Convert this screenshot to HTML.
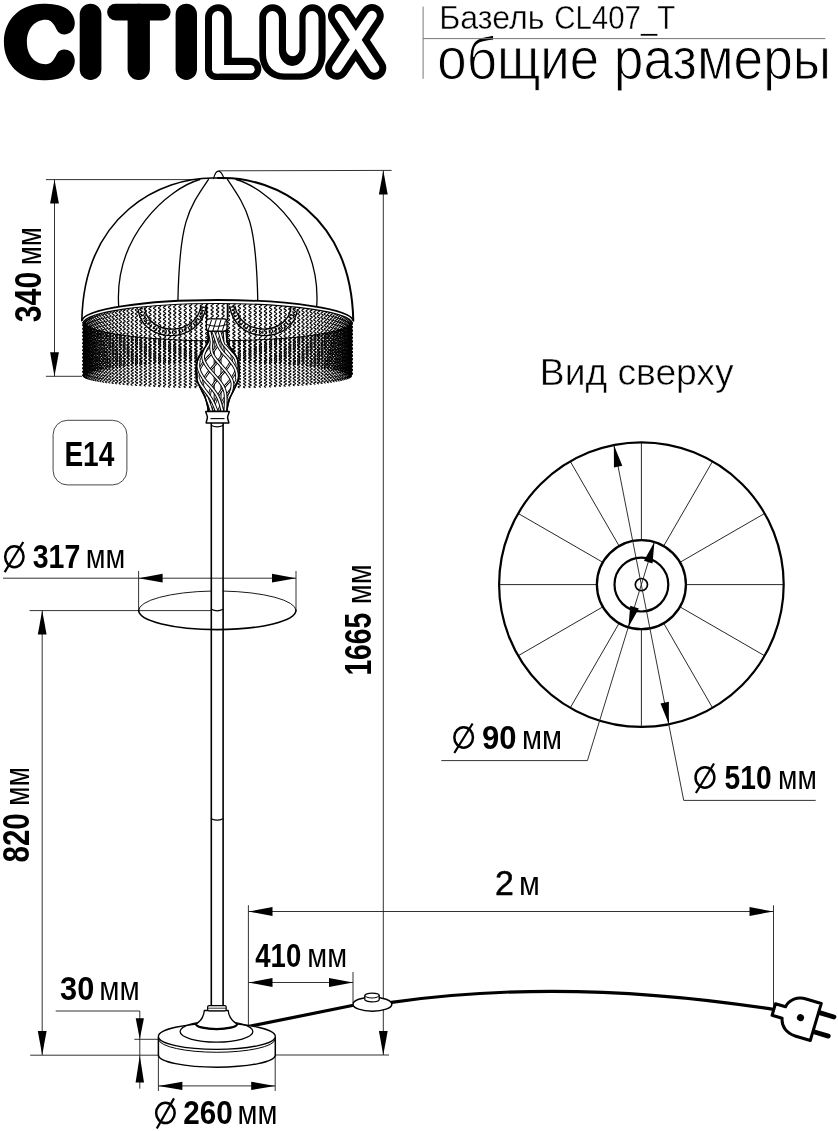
<!DOCTYPE html>
<html><head><meta charset="utf-8"><title>Citilux CL407_T</title>
<style>html,body{margin:0;padding:0;background:#fff}svg{display:block;will-change:transform}text{white-space:pre}</style></head>
<body>
<svg width="838" height="1131" viewBox="0 0 838 1131">
<rect width="838" height="1131" fill="#fff"/>
<g id="logo" fill="#000">
<path d="M3.9,42 C3.9,20 20,3.7 43,3.7 C52,3.7 60,4.8 65.6,7.9 C71,11 74.8,17 74.8,23 C74.8,30 70,34.4 64.3,34.4 C61,34.4 59,33 57.8,31.5 C55.2,27.8 53,19.8 46,19.8 C34,19.8 26.9,29.5 26.9,42 C26.9,54.5 34,64.2 46,64.2 C53,64.2 55.2,56.2 57.8,52.5 C59,51 61,49.6 64.3,49.6 C70,49.6 74.8,54 74.8,61 C74.8,67 71,73 65.6,76.1 C60,79.2 52,80.3 43,80.3 C20,80.3 3.9,64 3.9,42 Z"/>
<rect x="79.7" y="3.7" width="21.7" height="76.3" rx="10.8"/>
<rect x="107.1" y="3.7" width="63.5" height="16.8" rx="8.4"/>
<rect x="127.6" y="3.7" width="22.3" height="76.3" rx="11"/>
<rect x="175.6" y="3.7" width="21.4" height="76.3" rx="10.7"/>
</g>
<g fill="none" stroke-linecap="round" stroke-linejoin="round">
<line x1="218.4" y1="17.7" x2="218.4" y2="66.6" stroke="#000" stroke-width="26.8"/>
<line x1="216.1" y1="68.9" x2="250.2" y2="68.9" stroke="#000" stroke-width="22.2"/>
<path d="M259.3,17.5 A13.35,13.2 0 0 1 286,17.5 L286,49.6 A6.7,6.7 0 0 0 299.4,49.6 L299.4,17.5 A13.1,13.2 0 0 1 325.6,17.5 L325.6,54 C325.6,69 316,79.7 301,79.7 L284,79.7 C269,79.7 259.3,69 259.3,54 Z" fill="#000"/>
<line x1="339.75" y1="15.75" x2="374.45" y2="67.95" stroke="#000" stroke-width="23.6"/>
<line x1="371.95" y1="15.75" x2="336.95" y2="67.95" stroke="#000" stroke-width="23.6"/>
<line x1="218.05" y1="17.05" x2="218.05" y2="67.45" stroke="#fff" stroke-width="12.1"/>
<line x1="216.3" y1="69.2" x2="250.4" y2="69.2" stroke="#fff" stroke-width="8.6"/>
<path d="M266,17.5 A6.45,6.5 0 0 1 278.9,17.5 L278.9,50 A13.35,15.9 0 0 0 305.6,50 L305.6,17.5 A6.45,6.5 0 0 1 318.5,17.5 L318.5,54 C318.5,66 311,73.5 300,73.5 L285,73.5 C274,73.5 266,66 266,54 Z" fill="#fff"/>
<line x1="339.75" y1="15.75" x2="374.45" y2="67.95" stroke="#fff" stroke-width="9.8"/>
<line x1="371.95" y1="15.75" x2="336.95" y2="67.95" stroke="#fff" stroke-width="9.8"/>
</g>
<text transform="translate(439.15,28.50) scale(0.9630,1)" font-family="Liberation Sans, sans-serif" font-size="33.40" font-weight="normal" fill="#000" stroke="#fff" stroke-width="0.4">Базель</text>
<text transform="translate(554.23,28.50) scale(0.8812,1)" font-family="Liberation Sans, sans-serif" font-size="33.40" font-weight="normal" fill="#000" stroke="#fff" stroke-width="0.4">CL407_T</text>
<text transform="translate(437.36,79.20) scale(0.9023,1)" font-family="Liberation Sans, sans-serif" font-size="58.50" font-weight="normal" fill="#000" stroke="#fff" stroke-width="1.0">общие</text>
<text transform="translate(613.84,79.20) scale(0.9108,1)" font-family="Liberation Sans, sans-serif" font-size="58.50" font-weight="normal" fill="#000" stroke="#fff" stroke-width="1.0">размеры</text>
<line x1="423.10" y1="6.60" x2="423.10" y2="78.80" stroke="#777" stroke-width="1" />
<line x1="423.10" y1="38.60" x2="825.40" y2="38.60" stroke="#777" stroke-width="1" />
<line x1="45.90" y1="179.60" x2="194.00" y2="179.60" stroke="#1c1c1c" stroke-width="0.9" />
<line x1="45.90" y1="376.30" x2="82.00" y2="376.30" stroke="#1c1c1c" stroke-width="0.9" />
<line x1="54.50" y1="179.60" x2="54.50" y2="376.30" stroke="#1c1c1c" stroke-width="0.9" />
<polygon points="54.50,179.60 58.90,203.60 50.10,203.60" fill="#000"/>
<polygon points="54.50,376.30 50.10,352.30 58.90,352.30" fill="#000"/>
<text transform="translate(40.70,322.28) rotate(-90) scale(0.8319,1)" font-family="Liberation Sans, sans-serif" font-size="36.40" font-weight="bold" fill="#000" >340</text>
<text transform="translate(40.60,265.25) rotate(-90) scale(0.7965,1)" font-family="Liberation Sans, sans-serif" font-size="34.90" font-weight="normal" fill="#000" >мм</text>
<line x1="218.50" y1="170.80" x2="391.60" y2="170.40" stroke="#1c1c1c" stroke-width="0.9" />
<line x1="383.30" y1="170.50" x2="383.30" y2="1055.00" stroke="#1c1c1c" stroke-width="0.9" />
<polygon points="383.30,170.50 387.70,194.50 378.90,194.50" fill="#000"/>
<polygon points="383.30,1055.00 378.90,1031.00 387.70,1031.00" fill="#000"/>
<line x1="275.00" y1="1055.00" x2="389.00" y2="1055.00" stroke="#1c1c1c" stroke-width="0.9" />
<text transform="translate(371.20,675.56) rotate(-90) scale(0.7743,1)" font-family="Liberation Sans, sans-serif" font-size="36.40" font-weight="bold" fill="#000" >1665</text>
<text transform="translate(370.70,604.23) rotate(-90) scale(0.8312,1)" font-family="Liberation Sans, sans-serif" font-size="34.90" font-weight="normal" fill="#000" >мм</text>
<line x1="3.00" y1="578.20" x2="296.00" y2="578.20" stroke="#1c1c1c" stroke-width="0.9" />
<line x1="138.60" y1="571.00" x2="138.60" y2="610.50" stroke="#1c1c1c" stroke-width="0.9" />
<line x1="296.00" y1="571.00" x2="296.00" y2="610.50" stroke="#1c1c1c" stroke-width="0.9" />
<polygon points="138.60,578.20 162.60,573.80 162.60,582.60" fill="#000"/>
<polygon points="296.00,578.20 272.00,582.60 272.00,573.80" fill="#000"/>
<ellipse cx="14.35" cy="556.75" rx="9.20" ry="10.40" fill="none" stroke="#000" stroke-width="2.5"/>
<line x1="4.65" y1="572.20" x2="23.30" y2="542.00" stroke="#000" stroke-width="2.2" />
<text transform="translate(32.76,568.30) scale(0.8487,1)" font-family="Liberation Sans, sans-serif" font-size="33.60" font-weight="bold" fill="#000" >317</text>
<text transform="translate(85.69,568.30) scale(0.8717,1)" font-family="Liberation Sans, sans-serif" font-size="33.00" font-weight="normal" fill="#000" >мм</text>
<line x1="29.60" y1="610.60" x2="211.30" y2="610.60" stroke="#1c1c1c" stroke-width="0.9" />
<line x1="42.20" y1="610.60" x2="42.20" y2="1055.00" stroke="#1c1c1c" stroke-width="0.9" />
<polygon points="42.20,610.60 46.60,634.60 37.80,634.60" fill="#000"/>
<polygon points="42.20,1055.00 37.80,1031.00 46.60,1031.00" fill="#000"/>
<line x1="30.20" y1="1055.20" x2="158.40" y2="1055.20" stroke="#1c1c1c" stroke-width="0.9" />
<text transform="translate(28.90,862.56) rotate(-90) scale(0.8130,1)" font-family="Liberation Sans, sans-serif" font-size="36.40" font-weight="bold" fill="#000" >820</text>
<text transform="translate(28.80,805.99) rotate(-90) scale(0.8081,1)" font-family="Liberation Sans, sans-serif" font-size="35.20" font-weight="normal" fill="#000" >мм</text>
<line x1="55.70" y1="1011.00" x2="139.80" y2="1011.00" stroke="#1c1c1c" stroke-width="0.9" />
<line x1="139.80" y1="1011.00" x2="139.80" y2="1088.70" stroke="#1c1c1c" stroke-width="0.9" />
<line x1="134.30" y1="1039.30" x2="158.40" y2="1039.30" stroke="#1c1c1c" stroke-width="0.9" />
<polygon points="139.80,1039.30 135.70,1018.30 143.90,1018.30" fill="#000"/>
<polygon points="139.80,1055.60 144.00,1082.60 135.60,1082.60" fill="#000"/>
<text transform="translate(60.11,1000.10) scale(0.9149,1)" font-family="Liberation Sans, sans-serif" font-size="33.60" font-weight="bold" fill="#000" >30</text>
<text transform="translate(99.24,1000.10) scale(0.8913,1)" font-family="Liberation Sans, sans-serif" font-size="33.00" font-weight="normal" fill="#000" >мм</text>
<line x1="158.40" y1="1055.00" x2="158.40" y2="1091.00" stroke="#1c1c1c" stroke-width="0.9" />
<line x1="275.20" y1="1055.00" x2="275.20" y2="1091.00" stroke="#1c1c1c" stroke-width="0.9" />
<line x1="158.40" y1="1085.90" x2="275.20" y2="1085.90" stroke="#1c1c1c" stroke-width="0.9" />
<polygon points="158.40,1085.90 182.40,1081.70 182.40,1090.10" fill="#000"/>
<polygon points="275.20,1085.90 251.20,1090.10 251.20,1081.70" fill="#000"/>
<ellipse cx="165.40" cy="1112.95" rx="9.25" ry="10.10" fill="none" stroke="#000" stroke-width="2.5"/>
<line x1="156.80" y1="1128.50" x2="174.00" y2="1098.40" stroke="#000" stroke-width="2.2" />
<text transform="translate(183.26,1124.20) scale(0.8821,1)" font-family="Liberation Sans, sans-serif" font-size="33.60" font-weight="bold" fill="#000" >260</text>
<text transform="translate(237.47,1124.20) scale(0.8791,1)" font-family="Liberation Sans, sans-serif" font-size="33.00" font-weight="normal" fill="#000" >мм</text>
<line x1="248.40" y1="905.30" x2="248.40" y2="1026.00" stroke="#1c1c1c" stroke-width="0.9" />
<line x1="353.00" y1="972.00" x2="353.00" y2="1003.00" stroke="#1c1c1c" stroke-width="0.9" />
<line x1="248.50" y1="982.50" x2="353.00" y2="982.50" stroke="#1c1c1c" stroke-width="0.9" />
<polygon points="248.50,982.50 272.50,978.10 272.50,986.90" fill="#000"/>
<polygon points="353.00,982.50 329.00,986.90 329.00,978.10" fill="#000"/>
<text transform="translate(255.29,967.00) scale(0.8195,1)" font-family="Liberation Sans, sans-serif" font-size="33.60" font-weight="bold" fill="#000" >410</text>
<text transform="translate(307.37,967.30) scale(0.8766,1)" font-family="Liberation Sans, sans-serif" font-size="33.00" font-weight="normal" fill="#000" >мм</text>
<line x1="248.50" y1="911.50" x2="773.50" y2="911.50" stroke="#1c1c1c" stroke-width="0.9" />
<line x1="773.50" y1="905.30" x2="773.50" y2="1007.00" stroke="#1c1c1c" stroke-width="0.9" />
<polygon points="248.50,911.50 272.50,907.10 272.50,915.90" fill="#000"/>
<polygon points="773.50,911.50 749.50,915.90 749.50,907.10" fill="#000"/>
<text transform="translate(495.11,895.40) scale(0.9839,1)" font-family="Liberation Sans, sans-serif" font-size="34.40" font-weight="normal" fill="#000" stroke="#000" stroke-width="0.5">2</text>
<text transform="translate(518.97,895.40) scale(0.8904,1)" font-family="Liberation Sans, sans-serif" font-size="34.10" font-weight="normal" fill="#000" >м</text>
<rect x="53.1" y="420.3" width="73.8" height="64.6" rx="14.3" fill="#fff" stroke="#333" stroke-width="0.9"/>
<text transform="translate(64.40,465.50) scale(0.7847,1)" font-family="Liberation Sans, sans-serif" font-size="35.80" font-weight="bold" fill="#000" >E14</text>
<text transform="translate(539.83,385.40) scale(1.0250,1)" font-family="Liberation Sans, sans-serif" font-size="36.30" font-weight="normal" fill="#000" stroke="#fff" stroke-width="0.5">Вид сверху</text>
<line x1="685.90" y1="584.60" x2="783.70" y2="584.60" stroke="#1c1c1c" stroke-width="0.95" />
<line x1="679.94" y1="606.85" x2="764.64" y2="655.75" stroke="#1c1c1c" stroke-width="0.95" />
<line x1="663.65" y1="623.14" x2="712.55" y2="707.84" stroke="#1c1c1c" stroke-width="0.95" />
<line x1="641.40" y1="629.10" x2="641.40" y2="726.90" stroke="#1c1c1c" stroke-width="0.95" />
<line x1="619.15" y1="623.14" x2="570.25" y2="707.84" stroke="#1c1c1c" stroke-width="0.95" />
<line x1="602.86" y1="606.85" x2="518.16" y2="655.75" stroke="#1c1c1c" stroke-width="0.95" />
<line x1="596.90" y1="584.60" x2="499.10" y2="584.60" stroke="#1c1c1c" stroke-width="0.95" />
<line x1="602.86" y1="562.35" x2="518.16" y2="513.45" stroke="#1c1c1c" stroke-width="0.95" />
<line x1="619.15" y1="546.06" x2="570.25" y2="461.36" stroke="#1c1c1c" stroke-width="0.95" />
<line x1="641.40" y1="540.10" x2="641.40" y2="442.30" stroke="#1c1c1c" stroke-width="0.95" />
<line x1="663.65" y1="546.06" x2="712.55" y2="461.36" stroke="#1c1c1c" stroke-width="0.95" />
<line x1="679.94" y1="562.35" x2="764.64" y2="513.45" stroke="#1c1c1c" stroke-width="0.95" />
<circle cx="641.4" cy="584.6" r="142.3" fill="none" stroke="#000" stroke-width="2.2"/>
<circle cx="641.4" cy="584.6" r="44.5" fill="none" stroke="#000" stroke-width="2.3"/>
<circle cx="641.4" cy="584.6" r="26.9" fill="none" stroke="#000" stroke-width="2.2"/>
<circle cx="641.4" cy="584.6" r="6.1" fill="none" stroke="#000" stroke-width="1.7"/>
<line x1="613.86" y1="444.99" x2="683.70" y2="800.30" stroke="#1c1c1c" stroke-width="0.9" />
<line x1="683.70" y1="800.40" x2="815.70" y2="800.40" stroke="#1c1c1c" stroke-width="0.9" />
<polygon points="613.86,444.99 622.29,465.75 613.95,467.40" fill="#000"/>
<polygon points="668.94,724.21 660.51,703.45 668.85,701.80" fill="#000"/>
<ellipse cx="704.95" cy="777.40" rx="9.40" ry="10.25" fill="none" stroke="#000" stroke-width="2.5"/>
<line x1="695.90" y1="793.00" x2="714.00" y2="763.50" stroke="#000" stroke-width="2.2" />
<text transform="translate(724.55,788.80) scale(0.8384,1)" font-family="Liberation Sans, sans-serif" font-size="33.60" font-weight="bold" fill="#000" >510</text>
<text transform="translate(778.03,788.80) scale(0.8546,1)" font-family="Liberation Sans, sans-serif" font-size="33.00" font-weight="normal" fill="#000" >мм</text>
<line x1="654.38" y1="542.04" x2="587.40" y2="760.60" stroke="#1c1c1c" stroke-width="0.9" />
<line x1="441.30" y1="760.60" x2="587.40" y2="760.60" stroke="#1c1c1c" stroke-width="0.9" />
<polygon points="654.38,542.04 652.56,563.44 643.95,560.81" fill="#000"/>
<polygon points="628.42,627.16 630.24,605.76 638.85,608.39" fill="#000"/>
<ellipse cx="463.65" cy="737.40" rx="9.30" ry="10.25" fill="none" stroke="#000" stroke-width="2.5"/>
<line x1="454.30" y1="753.00" x2="472.60" y2="723.50" stroke="#000" stroke-width="2.2" />
<text transform="translate(481.91,748.80) scale(0.9231,1)" font-family="Liberation Sans, sans-serif" font-size="33.60" font-weight="bold" fill="#000" >90</text>
<text transform="translate(522.06,748.80) scale(0.8815,1)" font-family="Liberation Sans, sans-serif" font-size="33.00" font-weight="normal" fill="#000" >мм</text>
<g fill="none" stroke="#000" stroke-linecap="round" stroke-linejoin="round">
<path d="M138.6,610.3 A78.7,19.3 0 0 1 211.3,591.06 M223.1,591.06 A78.7,19.3 0 0 1 296,610.3" stroke-width="0.9"/>
<path d="M138.6,610.3 A78.7,19.3 0 0 0 296,610.3" stroke-width="1.6"/>
<path d="M211.3,423 V1006 M223.1,423 V1006" stroke-width="1.6"/>
<path d="M211.3,609.3 Q217.2,612.3 223,609.3" stroke-width="1.2"/>
<path d="M211.3,818.7 Q217.2,821.7 223,818.7" stroke-width="1.2"/>
<path d="M249.4,1026.3 L353.5,1005.3" stroke-width="3.2"/>
<path d="M391.5,1002.3 Q567.6,977.2 773.3,1009.4" stroke-width="3.2"/>
<ellipse cx="372.4" cy="1004.2" rx="19.4" ry="7" fill="#fff" stroke-width="1.5"/>
<path d="M364.8,999.5 V995.6 A7.2,2.4 0 0 1 379.2,995.6 V999.5 A7.2,2.4 0 0 1 364.8,999.5 Z" fill="#fff" stroke-width="1.3"/>
<path d="M364.8,995.6 A7.2,2.4 0 0 0 379.2,995.6" stroke-width="1"/>
<g transform="translate(773.3,1009.4) rotate(16.5)">
<path d="M46,-10 H60.3 M46,10 H60.3" stroke-width="4.8"/>
<path d="M0.5,-6 H11 C12.5,-14 19.5,-19.3 28.5,-19.3 L44.3,-19.3 V19.3 L28.5,19.3 C19.5,19.3 12.5,14 11,6 H0.5 Z" fill="#fff" stroke-width="3" stroke-linejoin="round"/>
<circle cx="28.4" cy="0.2" r="3.6" fill="#000" stroke="none"/>
</g>
<path d="M158.4,1037.5 V1055 A58.45,12.2 0 0 0 275.3,1055 V1037.5" fill="#fff" stroke-width="1.5"/>
<ellipse cx="216.85" cy="1036.4" rx="58.45" ry="13" fill="#fff" stroke-width="1.4"/>
<path d="M158.6,1039.9 A58.3,12.9 0 0 0 275.1,1039.9" stroke-width="1"/>
<ellipse cx="216.5" cy="1031.6" rx="36.4" ry="10.5" stroke-width="1.3"/>
<path d="M195.9,1024.2 C201,1021 204,1016 204.3,1010.5 H228.2 C228.5,1016 232,1021 237.2,1024.2 A20.7,5.2 0 0 1 195.9,1024.2 Z" fill="#fff" stroke-width="1.3"/>
<path d="M195.9,1024.2 A20.7,5.2 0 0 0 237.2,1024.2" stroke-width="2.2"/>
<rect x="207.6" y="1005.6" width="18.6" height="5.2" rx="1.5" fill="#fff" stroke-width="1.2"/>
<path d="M207.8,1008.2 H226" stroke-width="0.8"/>
</g>
<g fill="none" stroke="#000" stroke-linecap="round" stroke-linejoin="round">
<path d="M81.8,320.8 C84.1,213.5 161.5,177.6 213.2,178 L222.8,178 C274.1,177.6 351.0,213.5 353.3,320.8 A135.8,20 0 0 0 81.8,320.8 Z" fill="#fff" stroke="none"/>
<path d="M81.8,320.8 C84.1,213.5 161.5,177.6 213.2,178 L218,178" stroke-width="1.6"/>
<path d="M218,178 L222.8,178 C274.1,177.6 351.0,213.5 353.3,320.8" stroke-width="2"/>
<path d="M213.6,178.6 C214.6,174.5 216.4,171.2 218.4,171.2 C220.4,171.2 222.6,174.5 224,178.8" fill="none" stroke-width="1.2"/>
<path d="M118.7,306.5 C113.9,235.8 168.4,188.4 199.8,179.5" stroke-width="1.3"/>
<path d="M177.9,301 C179.6,221.6 187.6,210.1 208.4,179.5" stroke-width="1.3"/>
<path d="M316.7,306.5 C321.4,235.8 267.3,188.4 236.1,179.5" stroke-width="1.3"/>
<path d="M257.8,301 C256.2,221.6 248.2,210.1 227.5,179.5" stroke-width="1.3"/>
</g>
<g fill="none" stroke="#000" stroke-width="1.3">
<path d="M138.0,309 C142.0,344.5 201.0,345.5 206.2,305.8"/>
<path d="M141.2,308.2 C145.0,340 198.5,341 203.6,305.8" stroke-width="3.2" stroke-dasharray="1.3 2.0"/>
<path d="M144.5,307.5 C148.0,336 196.0,337 201.0,305.8"/>
<path d="M297.5,309 C293.5,344.5 234.9,345.5 229.7,305.8"/>
<path d="M294.3,308.2 C290.5,340 237.4,341 232.3,305.8" stroke-width="3.2" stroke-dasharray="1.3 2.0"/>
<path d="M291.0,307.5 C287.5,336 239.9,337 234.9,305.8"/>
<path d="M206.6,303.2 V320 M227.4,303.2 V320" stroke-width="1.3"/>
</g>
<g fill="none" stroke="#000" stroke-width="1.25" stroke-linecap="round">
<path d="M0,0q2.30,1.05 0,2.10t0,2.10t0,2.10t0,2.10t0,2.10t0,2.10t0,2.10t0,2.10t0,2.10t0,2.10t0,2.10t0,2.10t0,2.10t0,2.10t0,2.10t0,2.10t0,2.10t0,2.10t0,2.10t0,2.10t0,2.10t0,2.10t0,2.10t0,2.10t0,2.10t0,2.10t0,2.10t0,2.10t0,2.10t0,2.10" transform="translate(351.17,322.38) scale(1,0.855)"/>
<path d="M0,0q2.30,1.05 0,2.10t0,2.10t0,2.10t0,2.10t0,2.10t0,2.10t0,2.10t0,2.10t0,2.10t0,2.10t0,2.10t0,2.10t0,2.10t0,2.10t0,2.10t0,2.10t0,2.10t0,2.10t0,2.10t0,2.10t0,2.10t0,2.10t0,2.10t0,2.10t0,2.10t0,2.10t0,2.10t0,2.10t0,2.10t0,2.10" transform="translate(350.95,323.13) scale(1,0.851)"/>
<path d="M0,0q2.30,1.05 0,2.10t0,2.10t0,2.10t0,2.10t0,2.10t0,2.10t0,2.10t0,2.10t0,2.10t0,2.10t0,2.10t0,2.10t0,2.10t0,2.10t0,2.10t0,2.10t0,2.10t0,2.10t0,2.10t0,2.10t0,2.10t0,2.10t0,2.10t0,2.10t0,2.10t0,2.10t0,2.10t0,2.10t0,2.10t0,2.10" transform="translate(350.51,323.88) scale(1,0.847)"/>
<path d="M0,0q2.30,1.05 0,2.10t0,2.10t0,2.10t0,2.10t0,2.10t0,2.10t0,2.10t0,2.10t0,2.10t0,2.10t0,2.10t0,2.10t0,2.10t0,2.10t0,2.10t0,2.10t0,2.10t0,2.10t0,2.10t0,2.10t0,2.10t0,2.10t0,2.10t0,2.10t0,2.10t0,2.10t0,2.10t0,2.10t0,2.10t0,2.10" transform="translate(349.84,324.63) scale(1,0.842)"/>
<path d="M0,0q2.30,1.05 0,2.10t0,2.10t0,2.10t0,2.10t0,2.10t0,2.10t0,2.10t0,2.10t0,2.10t0,2.10t0,2.10t0,2.10t0,2.10t0,2.10t0,2.10t0,2.10t0,2.10t0,2.10t0,2.10t0,2.10t0,2.10t0,2.10t0,2.10t0,2.10t0,2.10t0,2.10t0,2.10t0,2.10t0,2.10t0,2.10" transform="translate(348.95,325.38) scale(1,0.838)"/>
<path d="M0,0q2.30,1.05 0,2.10t0,2.10t0,2.10t0,2.10t0,2.10t0,2.10t0,2.10t0,2.10t0,2.10t0,2.10t0,2.10t0,2.10t0,2.10t0,2.10t0,2.10t0,2.10t0,2.10t0,2.10t0,2.10t0,2.10t0,2.10t0,2.10t0,2.10t0,2.10t0,2.10t0,2.10t0,2.10t0,2.10t0,2.10t0,2.10" transform="translate(347.85,326.12) scale(1,0.834)"/>
<path d="M0,0q2.30,1.05 0,2.10t0,2.10t0,2.10t0,2.10t0,2.10t0,2.10t0,2.10t0,2.10t0,2.10t0,2.10t0,2.10t0,2.10t0,2.10t0,2.10t0,2.10t0,2.10t0,2.10t0,2.10t0,2.10t0,2.10t0,2.10t0,2.10t0,2.10t0,2.10t0,2.10t0,2.10t0,2.10t0,2.10t0,2.10t0,2.10" transform="translate(346.53,326.85) scale(1,0.830)"/>
<path d="M0,0q2.30,1.05 0,2.10t0,2.10t0,2.10t0,2.10t0,2.10t0,2.10t0,2.10t0,2.10t0,2.10t0,2.10t0,2.10t0,2.10t0,2.10t0,2.10t0,2.10t0,2.10t0,2.10t0,2.10t0,2.10t0,2.10t0,2.10t0,2.10t0,2.10t0,2.10t0,2.10t0,2.10t0,2.10t0,2.10t0,2.10t0,2.10" transform="translate(344.99,327.57) scale(1,0.826)"/>
<path d="M0,0q2.30,1.05 0,2.10t0,2.10t0,2.10t0,2.10t0,2.10t0,2.10t0,2.10t0,2.10t0,2.10t0,2.10t0,2.10t0,2.10t0,2.10t0,2.10t0,2.10t0,2.10t0,2.10t0,2.10t0,2.10t0,2.10t0,2.10t0,2.10t0,2.10t0,2.10t0,2.10t0,2.10t0,2.10t0,2.10t0,2.10t0,2.10" transform="translate(343.25,328.29) scale(1,0.822)"/>
<path d="M0,0q2.30,1.05 0,2.10t0,2.10t0,2.10t0,2.10t0,2.10t0,2.10t0,2.10t0,2.10t0,2.10t0,2.10t0,2.10t0,2.10t0,2.10t0,2.10t0,2.10t0,2.10t0,2.10t0,2.10t0,2.10t0,2.10t0,2.10t0,2.10t0,2.10t0,2.10t0,2.10t0,2.10t0,2.10t0,2.10t0,2.10t0,2.10" transform="translate(341.29,328.99) scale(1,0.818)"/>
<path d="M0,0q2.30,1.05 0,2.10t0,2.10t0,2.10t0,2.10t0,2.10t0,2.10t0,2.10t0,2.10t0,2.10t0,2.10t0,2.10t0,2.10t0,2.10t0,2.10t0,2.10t0,2.10t0,2.10t0,2.10t0,2.10t0,2.10t0,2.10t0,2.10t0,2.10t0,2.10t0,2.10t0,2.10t0,2.10t0,2.10t0,2.10t0,2.10" transform="translate(339.13,329.69) scale(1,0.814)"/>
<path d="M0,0q2.30,1.05 0,2.10t0,2.10t0,2.10t0,2.10t0,2.10t0,2.10t0,2.10t0,2.10t0,2.10t0,2.10t0,2.10t0,2.10t0,2.10t0,2.10t0,2.10t0,2.10t0,2.10t0,2.10t0,2.10t0,2.10t0,2.10t0,2.10t0,2.10t0,2.10t0,2.10t0,2.10t0,2.10t0,2.10t0,2.10t0,2.10" transform="translate(336.76,330.37) scale(1,0.810)"/>
<path d="M0,0q2.30,1.05 0,2.10t0,2.10t0,2.10t0,2.10t0,2.10t0,2.10t0,2.10t0,2.10t0,2.10t0,2.10t0,2.10t0,2.10t0,2.10t0,2.10t0,2.10t0,2.10t0,2.10t0,2.10t0,2.10t0,2.10t0,2.10t0,2.10t0,2.10t0,2.10t0,2.10t0,2.10t0,2.10t0,2.10t0,2.10t0,2.10" transform="translate(334.20,331.03) scale(1,0.807)"/>
<path d="M0,0q2.30,1.05 0,2.10t0,2.10t0,2.10t0,2.10t0,2.10t0,2.10t0,2.10t0,2.10t0,2.10t0,2.10t0,2.10t0,2.10t0,2.10t0,2.10t0,2.10t0,2.10t0,2.10t0,2.10t0,2.10t0,2.10t0,2.10t0,2.10t0,2.10t0,2.10t0,2.10t0,2.10t0,2.10t0,2.10t0,2.10t0,2.10" transform="translate(331.44,331.68) scale(1,0.803)"/>
<path d="M0,0q2.30,1.05 0,2.10t0,2.10t0,2.10t0,2.10t0,2.10t0,2.10t0,2.10t0,2.10t0,2.10t0,2.10t0,2.10t0,2.10t0,2.10t0,2.10t0,2.10t0,2.10t0,2.10t0,2.10t0,2.10t0,2.10t0,2.10t0,2.10t0,2.10t0,2.10t0,2.10t0,2.10t0,2.10t0,2.10t0,2.10t0,2.10" transform="translate(328.49,332.32) scale(1,0.800)"/>
<path d="M0,0q2.30,1.05 0,2.10t0,2.10t0,2.10t0,2.10t0,2.10t0,2.10t0,2.10t0,2.10t0,2.10t0,2.10t0,2.10t0,2.10t0,2.10t0,2.10t0,2.10t0,2.10t0,2.10t0,2.10t0,2.10t0,2.10t0,2.10t0,2.10t0,2.10t0,2.10t0,2.10t0,2.10t0,2.10t0,2.10t0,2.10t0,2.10" transform="translate(325.36,332.94) scale(1,0.796)"/>
<path d="M0,0q2.30,1.05 0,2.10t0,2.10t0,2.10t0,2.10t0,2.10t0,2.10t0,2.10t0,2.10t0,2.10t0,2.10t0,2.10t0,2.10t0,2.10t0,2.10t0,2.10t0,2.10t0,2.10t0,2.10t0,2.10t0,2.10t0,2.10t0,2.10t0,2.10t0,2.10t0,2.10t0,2.10t0,2.10t0,2.10t0,2.10t0,2.10" transform="translate(322.05,333.53) scale(1,0.793)"/>
<path d="M0,0q2.30,1.05 0,2.10t0,2.10t0,2.10t0,2.10t0,2.10t0,2.10t0,2.10t0,2.10t0,2.10t0,2.10t0,2.10t0,2.10t0,2.10t0,2.10t0,2.10t0,2.10t0,2.10t0,2.10t0,2.10t0,2.10t0,2.10t0,2.10t0,2.10t0,2.10t0,2.10t0,2.10t0,2.10t0,2.10t0,2.10t0,2.10" transform="translate(318.57,334.11) scale(1,0.790)"/>
<path d="M0,0q2.30,1.05 0,2.10t0,2.10t0,2.10t0,2.10t0,2.10t0,2.10t0,2.10t0,2.10t0,2.10t0,2.10t0,2.10t0,2.10t0,2.10t0,2.10t0,2.10t0,2.10t0,2.10t0,2.10t0,2.10t0,2.10t0,2.10t0,2.10t0,2.10t0,2.10t0,2.10t0,2.10t0,2.10t0,2.10t0,2.10t0,2.10" transform="translate(314.92,334.68) scale(1,0.786)"/>
<path d="M0,0q2.30,1.05 0,2.10t0,2.10t0,2.10t0,2.10t0,2.10t0,2.10t0,2.10t0,2.10t0,2.10t0,2.10t0,2.10t0,2.10t0,2.10t0,2.10t0,2.10t0,2.10t0,2.10t0,2.10t0,2.10t0,2.10t0,2.10t0,2.10t0,2.10t0,2.10t0,2.10t0,2.10t0,2.10t0,2.10t0,2.10t0,2.10" transform="translate(311.10,335.21) scale(1,0.783)"/>
<path d="M0,0q2.30,1.05 0,2.10t0,2.10t0,2.10t0,2.10t0,2.10t0,2.10t0,2.10t0,2.10t0,2.10t0,2.10t0,2.10t0,2.10t0,2.10t0,2.10t0,2.10t0,2.10t0,2.10t0,2.10t0,2.10t0,2.10t0,2.10t0,2.10t0,2.10t0,2.10t0,2.10t0,2.10t0,2.10t0,2.10t0,2.10t0,2.10" transform="translate(307.13,335.73) scale(1,0.781)"/>
<path d="M0,0q2.30,1.05 0,2.10t0,2.10t0,2.10t0,2.10t0,2.10t0,2.10t0,2.10t0,2.10t0,2.10t0,2.10t0,2.10t0,2.10t0,2.10t0,2.10t0,2.10t0,2.10t0,2.10t0,2.10t0,2.10t0,2.10t0,2.10t0,2.10t0,2.10t0,2.10t0,2.10t0,2.10t0,2.10t0,2.10t0,2.10t0,2.10" transform="translate(303.01,336.23) scale(1,0.778)"/>
<path d="M0,0q2.30,1.05 0,2.10t0,2.10t0,2.10t0,2.10t0,2.10t0,2.10t0,2.10t0,2.10t0,2.10t0,2.10t0,2.10t0,2.10t0,2.10t0,2.10t0,2.10t0,2.10t0,2.10t0,2.10t0,2.10t0,2.10t0,2.10t0,2.10t0,2.10t0,2.10t0,2.10t0,2.10t0,2.10t0,2.10t0,2.10t0,2.10" transform="translate(298.75,336.70) scale(1,0.775)"/>
<path d="M0,0q2.30,1.05 0,2.10t0,2.10t0,2.10t0,2.10t0,2.10t0,2.10t0,2.10t0,2.10t0,2.10t0,2.10t0,2.10t0,2.10t0,2.10t0,2.10t0,2.10t0,2.10t0,2.10t0,2.10t0,2.10t0,2.10t0,2.10t0,2.10t0,2.10t0,2.10t0,2.10t0,2.10t0,2.10t0,2.10t0,2.10t0,2.10" transform="translate(294.35,337.14) scale(1,0.773)"/>
<path d="M0,0q2.30,1.05 0,2.10t0,2.10t0,2.10t0,2.10t0,2.10t0,2.10t0,2.10t0,2.10t0,2.10t0,2.10t0,2.10t0,2.10t0,2.10t0,2.10t0,2.10t0,2.10t0,2.10t0,2.10t0,2.10t0,2.10t0,2.10t0,2.10t0,2.10t0,2.10t0,2.10t0,2.10t0,2.10t0,2.10t0,2.10t0,2.10" transform="translate(289.83,337.56) scale(1,0.770)"/>
<path d="M0,0q2.30,1.05 0,2.10t0,2.10t0,2.10t0,2.10t0,2.10t0,2.10t0,2.10t0,2.10t0,2.10t0,2.10t0,2.10t0,2.10t0,2.10t0,2.10t0,2.10t0,2.10t0,2.10t0,2.10t0,2.10t0,2.10t0,2.10t0,2.10t0,2.10t0,2.10t0,2.10t0,2.10t0,2.10t0,2.10t0,2.10t0,2.10" transform="translate(285.19,337.96) scale(1,0.768)"/>
<path d="M0,0q2.30,1.05 0,2.10t0,2.10t0,2.10t0,2.10t0,2.10t0,2.10t0,2.10t0,2.10t0,2.10t0,2.10t0,2.10t0,2.10t0,2.10t0,2.10t0,2.10t0,2.10t0,2.10t0,2.10t0,2.10t0,2.10t0,2.10t0,2.10t0,2.10t0,2.10t0,2.10t0,2.10t0,2.10t0,2.10t0,2.10t0,2.10" transform="translate(280.43,338.33) scale(1,0.766)"/>
<path d="M0,0q2.30,1.05 0,2.10t0,2.10t0,2.10t0,2.10t0,2.10t0,2.10t0,2.10t0,2.10t0,2.10t0,2.10t0,2.10t0,2.10t0,2.10t0,2.10t0,2.10t0,2.10t0,2.10t0,2.10t0,2.10t0,2.10t0,2.10t0,2.10t0,2.10t0,2.10t0,2.10t0,2.10t0,2.10t0,2.10t0,2.10t0,2.10" transform="translate(275.57,338.67) scale(1,0.764)"/>
<path d="M0,0q2.30,1.05 0,2.10t0,2.10t0,2.10t0,2.10t0,2.10t0,2.10t0,2.10t0,2.10t0,2.10t0,2.10t0,2.10t0,2.10t0,2.10t0,2.10t0,2.10t0,2.10t0,2.10t0,2.10t0,2.10t0,2.10t0,2.10t0,2.10t0,2.10t0,2.10t0,2.10t0,2.10t0,2.10t0,2.10t0,2.10t0,2.10" transform="translate(270.61,338.98) scale(1,0.762)"/>
<path d="M0,0q2.30,1.05 0,2.10t0,2.10t0,2.10t0,2.10t0,2.10t0,2.10t0,2.10t0,2.10t0,2.10t0,2.10t0,2.10t0,2.10t0,2.10t0,2.10t0,2.10t0,2.10t0,2.10t0,2.10t0,2.10t0,2.10t0,2.10t0,2.10t0,2.10t0,2.10t0,2.10t0,2.10t0,2.10t0,2.10t0,2.10t0,2.10" transform="translate(265.56,339.27) scale(1,0.761)"/>
<path d="M0,0q2.30,1.05 0,2.10t0,2.10t0,2.10t0,2.10t0,2.10t0,2.10t0,2.10t0,2.10t0,2.10t0,2.10t0,2.10t0,2.10t0,2.10t0,2.10t0,2.10t0,2.10t0,2.10t0,2.10t0,2.10t0,2.10t0,2.10t0,2.10t0,2.10t0,2.10t0,2.10t0,2.10t0,2.10t0,2.10t0,2.10t0,2.10" transform="translate(260.44,339.52) scale(1,0.759)"/>
<path d="M0,0q2.30,1.05 0,2.10t0,2.10t0,2.10t0,2.10t0,2.10t0,2.10t0,2.10t0,2.10t0,2.10t0,2.10t0,2.10t0,2.10t0,2.10t0,2.10t0,2.10t0,2.10t0,2.10t0,2.10t0,2.10t0,2.10t0,2.10t0,2.10t0,2.10t0,2.10t0,2.10t0,2.10t0,2.10t0,2.10t0,2.10t0,2.10" transform="translate(255.24,339.75) scale(1,0.758)"/>
<path d="M0,0q2.30,1.05 0,2.10t0,2.10t0,2.10t0,2.10t0,2.10t0,2.10t0,2.10t0,2.10t0,2.10t0,2.10t0,2.10t0,2.10t0,2.10t0,2.10t0,2.10t0,2.10t0,2.10t0,2.10t0,2.10t0,2.10t0,2.10t0,2.10t0,2.10t0,2.10t0,2.10t0,2.10t0,2.10t0,2.10t0,2.10t0,2.10" transform="translate(249.98,339.95) scale(1,0.757)"/>
<path d="M0,0q2.30,1.05 0,2.10t0,2.10t0,2.10t0,2.10t0,2.10t0,2.10t0,2.10t0,2.10t0,2.10t0,2.10t0,2.10t0,2.10t0,2.10t0,2.10t0,2.10t0,2.10t0,2.10t0,2.10t0,2.10t0,2.10t0,2.10t0,2.10t0,2.10t0,2.10t0,2.10t0,2.10t0,2.10t0,2.10t0,2.10t0,2.10" transform="translate(244.67,340.12) scale(1,0.756)"/>
<path d="M0,0q2.30,1.05 0,2.10t0,2.10t0,2.10t0,2.10t0,2.10t0,2.10t0,2.10t0,2.10t0,2.10t0,2.10t0,2.10t0,2.10t0,2.10t0,2.10t0,2.10t0,2.10t0,2.10t0,2.10t0,2.10t0,2.10t0,2.10t0,2.10t0,2.10t0,2.10t0,2.10t0,2.10t0,2.10t0,2.10t0,2.10t0,2.10" transform="translate(239.31,340.25) scale(1,0.755)"/>
<path d="M0,0q2.30,1.05 0,2.10t0,2.10t0,2.10t0,2.10t0,2.10t0,2.10t0,2.10t0,2.10t0,2.10t0,2.10t0,2.10t0,2.10t0,2.10t0,2.10t0,2.10t0,2.10t0,2.10t0,2.10t0,2.10t0,2.10t0,2.10t0,2.10t0,2.10t0,2.10t0,2.10t0,2.10t0,2.10t0,2.10t0,2.10t0,2.10" transform="translate(233.91,340.36) scale(1,0.755)"/>
<path d="M0,0q2.30,1.05 0,2.10t0,2.10t0,2.10t0,2.10t0,2.10t0,2.10t0,2.10t0,2.10t0,2.10t0,2.10t0,2.10t0,2.10t0,2.10t0,2.10t0,2.10t0,2.10t0,2.10t0,2.10t0,2.10t0,2.10t0,2.10t0,2.10t0,2.10t0,2.10t0,2.10t0,2.10t0,2.10t0,2.10t0,2.10t0,2.10" transform="translate(228.49,340.44) scale(1,0.754)"/>
<path d="M0,0q2.30,1.05 0,2.10t0,2.10t0,2.10t0,2.10t0,2.10t0,2.10t0,2.10t0,2.10t0,2.10t0,2.10t0,2.10t0,2.10t0,2.10t0,2.10t0,2.10t0,2.10t0,2.10t0,2.10t0,2.10t0,2.10t0,2.10t0,2.10t0,2.10t0,2.10t0,2.10t0,2.10t0,2.10t0,2.10t0,2.10t0,2.10" transform="translate(223.05,340.48) scale(1,0.754)"/>
<path d="M0,0q2.30,1.05 0,2.10t0,2.10t0,2.10t0,2.10t0,2.10t0,2.10t0,2.10t0,2.10t0,2.10t0,2.10t0,2.10t0,2.10t0,2.10t0,2.10t0,2.10t0,2.10t0,2.10t0,2.10t0,2.10t0,2.10t0,2.10t0,2.10t0,2.10t0,2.10t0,2.10t0,2.10t0,2.10t0,2.10t0,2.10t0,2.10" transform="translate(217.60,340.50) scale(1,0.754)"/>
<path d="M0,0q2.30,1.05 0,2.10t0,2.10t0,2.10t0,2.10t0,2.10t0,2.10t0,2.10t0,2.10t0,2.10t0,2.10t0,2.10t0,2.10t0,2.10t0,2.10t0,2.10t0,2.10t0,2.10t0,2.10t0,2.10t0,2.10t0,2.10t0,2.10t0,2.10t0,2.10t0,2.10t0,2.10t0,2.10t0,2.10t0,2.10t0,2.10" transform="translate(212.15,340.48) scale(1,0.754)"/>
<path d="M0,0q2.30,1.05 0,2.10t0,2.10t0,2.10t0,2.10t0,2.10t0,2.10t0,2.10t0,2.10t0,2.10t0,2.10t0,2.10t0,2.10t0,2.10t0,2.10t0,2.10t0,2.10t0,2.10t0,2.10t0,2.10t0,2.10t0,2.10t0,2.10t0,2.10t0,2.10t0,2.10t0,2.10t0,2.10t0,2.10t0,2.10t0,2.10" transform="translate(206.71,340.44) scale(1,0.754)"/>
<path d="M0,0q2.30,1.05 0,2.10t0,2.10t0,2.10t0,2.10t0,2.10t0,2.10t0,2.10t0,2.10t0,2.10t0,2.10t0,2.10t0,2.10t0,2.10t0,2.10t0,2.10t0,2.10t0,2.10t0,2.10t0,2.10t0,2.10t0,2.10t0,2.10t0,2.10t0,2.10t0,2.10t0,2.10t0,2.10t0,2.10t0,2.10t0,2.10" transform="translate(201.29,340.36) scale(1,0.755)"/>
<path d="M0,0q2.30,1.05 0,2.10t0,2.10t0,2.10t0,2.10t0,2.10t0,2.10t0,2.10t0,2.10t0,2.10t0,2.10t0,2.10t0,2.10t0,2.10t0,2.10t0,2.10t0,2.10t0,2.10t0,2.10t0,2.10t0,2.10t0,2.10t0,2.10t0,2.10t0,2.10t0,2.10t0,2.10t0,2.10t0,2.10t0,2.10t0,2.10" transform="translate(195.89,340.25) scale(1,0.755)"/>
<path d="M0,0q2.30,1.05 0,2.10t0,2.10t0,2.10t0,2.10t0,2.10t0,2.10t0,2.10t0,2.10t0,2.10t0,2.10t0,2.10t0,2.10t0,2.10t0,2.10t0,2.10t0,2.10t0,2.10t0,2.10t0,2.10t0,2.10t0,2.10t0,2.10t0,2.10t0,2.10t0,2.10t0,2.10t0,2.10t0,2.10t0,2.10t0,2.10" transform="translate(190.53,340.12) scale(1,0.756)"/>
<path d="M0,0q2.30,1.05 0,2.10t0,2.10t0,2.10t0,2.10t0,2.10t0,2.10t0,2.10t0,2.10t0,2.10t0,2.10t0,2.10t0,2.10t0,2.10t0,2.10t0,2.10t0,2.10t0,2.10t0,2.10t0,2.10t0,2.10t0,2.10t0,2.10t0,2.10t0,2.10t0,2.10t0,2.10t0,2.10t0,2.10t0,2.10t0,2.10" transform="translate(185.22,339.95) scale(1,0.757)"/>
<path d="M0,0q2.30,1.05 0,2.10t0,2.10t0,2.10t0,2.10t0,2.10t0,2.10t0,2.10t0,2.10t0,2.10t0,2.10t0,2.10t0,2.10t0,2.10t0,2.10t0,2.10t0,2.10t0,2.10t0,2.10t0,2.10t0,2.10t0,2.10t0,2.10t0,2.10t0,2.10t0,2.10t0,2.10t0,2.10t0,2.10t0,2.10t0,2.10" transform="translate(179.96,339.75) scale(1,0.758)"/>
<path d="M0,0q2.30,1.05 0,2.10t0,2.10t0,2.10t0,2.10t0,2.10t0,2.10t0,2.10t0,2.10t0,2.10t0,2.10t0,2.10t0,2.10t0,2.10t0,2.10t0,2.10t0,2.10t0,2.10t0,2.10t0,2.10t0,2.10t0,2.10t0,2.10t0,2.10t0,2.10t0,2.10t0,2.10t0,2.10t0,2.10t0,2.10t0,2.10" transform="translate(174.76,339.52) scale(1,0.759)"/>
<path d="M0,0q2.30,1.05 0,2.10t0,2.10t0,2.10t0,2.10t0,2.10t0,2.10t0,2.10t0,2.10t0,2.10t0,2.10t0,2.10t0,2.10t0,2.10t0,2.10t0,2.10t0,2.10t0,2.10t0,2.10t0,2.10t0,2.10t0,2.10t0,2.10t0,2.10t0,2.10t0,2.10t0,2.10t0,2.10t0,2.10t0,2.10t0,2.10" transform="translate(169.64,339.27) scale(1,0.761)"/>
<path d="M0,0q2.30,1.05 0,2.10t0,2.10t0,2.10t0,2.10t0,2.10t0,2.10t0,2.10t0,2.10t0,2.10t0,2.10t0,2.10t0,2.10t0,2.10t0,2.10t0,2.10t0,2.10t0,2.10t0,2.10t0,2.10t0,2.10t0,2.10t0,2.10t0,2.10t0,2.10t0,2.10t0,2.10t0,2.10t0,2.10t0,2.10t0,2.10" transform="translate(164.59,338.98) scale(1,0.762)"/>
<path d="M0,0q2.30,1.05 0,2.10t0,2.10t0,2.10t0,2.10t0,2.10t0,2.10t0,2.10t0,2.10t0,2.10t0,2.10t0,2.10t0,2.10t0,2.10t0,2.10t0,2.10t0,2.10t0,2.10t0,2.10t0,2.10t0,2.10t0,2.10t0,2.10t0,2.10t0,2.10t0,2.10t0,2.10t0,2.10t0,2.10t0,2.10t0,2.10" transform="translate(159.63,338.67) scale(1,0.764)"/>
<path d="M0,0q2.30,1.05 0,2.10t0,2.10t0,2.10t0,2.10t0,2.10t0,2.10t0,2.10t0,2.10t0,2.10t0,2.10t0,2.10t0,2.10t0,2.10t0,2.10t0,2.10t0,2.10t0,2.10t0,2.10t0,2.10t0,2.10t0,2.10t0,2.10t0,2.10t0,2.10t0,2.10t0,2.10t0,2.10t0,2.10t0,2.10t0,2.10" transform="translate(154.77,338.33) scale(1,0.766)"/>
<path d="M0,0q2.30,1.05 0,2.10t0,2.10t0,2.10t0,2.10t0,2.10t0,2.10t0,2.10t0,2.10t0,2.10t0,2.10t0,2.10t0,2.10t0,2.10t0,2.10t0,2.10t0,2.10t0,2.10t0,2.10t0,2.10t0,2.10t0,2.10t0,2.10t0,2.10t0,2.10t0,2.10t0,2.10t0,2.10t0,2.10t0,2.10t0,2.10" transform="translate(150.01,337.96) scale(1,0.768)"/>
<path d="M0,0q2.30,1.05 0,2.10t0,2.10t0,2.10t0,2.10t0,2.10t0,2.10t0,2.10t0,2.10t0,2.10t0,2.10t0,2.10t0,2.10t0,2.10t0,2.10t0,2.10t0,2.10t0,2.10t0,2.10t0,2.10t0,2.10t0,2.10t0,2.10t0,2.10t0,2.10t0,2.10t0,2.10t0,2.10t0,2.10t0,2.10t0,2.10" transform="translate(145.37,337.56) scale(1,0.770)"/>
<path d="M0,0q2.30,1.05 0,2.10t0,2.10t0,2.10t0,2.10t0,2.10t0,2.10t0,2.10t0,2.10t0,2.10t0,2.10t0,2.10t0,2.10t0,2.10t0,2.10t0,2.10t0,2.10t0,2.10t0,2.10t0,2.10t0,2.10t0,2.10t0,2.10t0,2.10t0,2.10t0,2.10t0,2.10t0,2.10t0,2.10t0,2.10t0,2.10" transform="translate(140.85,337.14) scale(1,0.773)"/>
<path d="M0,0q2.30,1.05 0,2.10t0,2.10t0,2.10t0,2.10t0,2.10t0,2.10t0,2.10t0,2.10t0,2.10t0,2.10t0,2.10t0,2.10t0,2.10t0,2.10t0,2.10t0,2.10t0,2.10t0,2.10t0,2.10t0,2.10t0,2.10t0,2.10t0,2.10t0,2.10t0,2.10t0,2.10t0,2.10t0,2.10t0,2.10t0,2.10" transform="translate(136.45,336.70) scale(1,0.775)"/>
<path d="M0,0q2.30,1.05 0,2.10t0,2.10t0,2.10t0,2.10t0,2.10t0,2.10t0,2.10t0,2.10t0,2.10t0,2.10t0,2.10t0,2.10t0,2.10t0,2.10t0,2.10t0,2.10t0,2.10t0,2.10t0,2.10t0,2.10t0,2.10t0,2.10t0,2.10t0,2.10t0,2.10t0,2.10t0,2.10t0,2.10t0,2.10t0,2.10" transform="translate(132.19,336.23) scale(1,0.778)"/>
<path d="M0,0q2.30,1.05 0,2.10t0,2.10t0,2.10t0,2.10t0,2.10t0,2.10t0,2.10t0,2.10t0,2.10t0,2.10t0,2.10t0,2.10t0,2.10t0,2.10t0,2.10t0,2.10t0,2.10t0,2.10t0,2.10t0,2.10t0,2.10t0,2.10t0,2.10t0,2.10t0,2.10t0,2.10t0,2.10t0,2.10t0,2.10t0,2.10" transform="translate(128.07,335.73) scale(1,0.781)"/>
<path d="M0,0q2.30,1.05 0,2.10t0,2.10t0,2.10t0,2.10t0,2.10t0,2.10t0,2.10t0,2.10t0,2.10t0,2.10t0,2.10t0,2.10t0,2.10t0,2.10t0,2.10t0,2.10t0,2.10t0,2.10t0,2.10t0,2.10t0,2.10t0,2.10t0,2.10t0,2.10t0,2.10t0,2.10t0,2.10t0,2.10t0,2.10t0,2.10" transform="translate(124.10,335.21) scale(1,0.783)"/>
<path d="M0,0q2.30,1.05 0,2.10t0,2.10t0,2.10t0,2.10t0,2.10t0,2.10t0,2.10t0,2.10t0,2.10t0,2.10t0,2.10t0,2.10t0,2.10t0,2.10t0,2.10t0,2.10t0,2.10t0,2.10t0,2.10t0,2.10t0,2.10t0,2.10t0,2.10t0,2.10t0,2.10t0,2.10t0,2.10t0,2.10t0,2.10t0,2.10" transform="translate(120.28,334.68) scale(1,0.786)"/>
<path d="M0,0q2.30,1.05 0,2.10t0,2.10t0,2.10t0,2.10t0,2.10t0,2.10t0,2.10t0,2.10t0,2.10t0,2.10t0,2.10t0,2.10t0,2.10t0,2.10t0,2.10t0,2.10t0,2.10t0,2.10t0,2.10t0,2.10t0,2.10t0,2.10t0,2.10t0,2.10t0,2.10t0,2.10t0,2.10t0,2.10t0,2.10t0,2.10" transform="translate(116.63,334.11) scale(1,0.790)"/>
<path d="M0,0q2.30,1.05 0,2.10t0,2.10t0,2.10t0,2.10t0,2.10t0,2.10t0,2.10t0,2.10t0,2.10t0,2.10t0,2.10t0,2.10t0,2.10t0,2.10t0,2.10t0,2.10t0,2.10t0,2.10t0,2.10t0,2.10t0,2.10t0,2.10t0,2.10t0,2.10t0,2.10t0,2.10t0,2.10t0,2.10t0,2.10t0,2.10" transform="translate(113.15,333.53) scale(1,0.793)"/>
<path d="M0,0q2.30,1.05 0,2.10t0,2.10t0,2.10t0,2.10t0,2.10t0,2.10t0,2.10t0,2.10t0,2.10t0,2.10t0,2.10t0,2.10t0,2.10t0,2.10t0,2.10t0,2.10t0,2.10t0,2.10t0,2.10t0,2.10t0,2.10t0,2.10t0,2.10t0,2.10t0,2.10t0,2.10t0,2.10t0,2.10t0,2.10t0,2.10" transform="translate(109.84,332.94) scale(1,0.796)"/>
<path d="M0,0q2.30,1.05 0,2.10t0,2.10t0,2.10t0,2.10t0,2.10t0,2.10t0,2.10t0,2.10t0,2.10t0,2.10t0,2.10t0,2.10t0,2.10t0,2.10t0,2.10t0,2.10t0,2.10t0,2.10t0,2.10t0,2.10t0,2.10t0,2.10t0,2.10t0,2.10t0,2.10t0,2.10t0,2.10t0,2.10t0,2.10t0,2.10" transform="translate(106.71,332.32) scale(1,0.800)"/>
<path d="M0,0q2.30,1.05 0,2.10t0,2.10t0,2.10t0,2.10t0,2.10t0,2.10t0,2.10t0,2.10t0,2.10t0,2.10t0,2.10t0,2.10t0,2.10t0,2.10t0,2.10t0,2.10t0,2.10t0,2.10t0,2.10t0,2.10t0,2.10t0,2.10t0,2.10t0,2.10t0,2.10t0,2.10t0,2.10t0,2.10t0,2.10t0,2.10" transform="translate(103.76,331.68) scale(1,0.803)"/>
<path d="M0,0q2.30,1.05 0,2.10t0,2.10t0,2.10t0,2.10t0,2.10t0,2.10t0,2.10t0,2.10t0,2.10t0,2.10t0,2.10t0,2.10t0,2.10t0,2.10t0,2.10t0,2.10t0,2.10t0,2.10t0,2.10t0,2.10t0,2.10t0,2.10t0,2.10t0,2.10t0,2.10t0,2.10t0,2.10t0,2.10t0,2.10t0,2.10" transform="translate(101.00,331.03) scale(1,0.807)"/>
<path d="M0,0q2.30,1.05 0,2.10t0,2.10t0,2.10t0,2.10t0,2.10t0,2.10t0,2.10t0,2.10t0,2.10t0,2.10t0,2.10t0,2.10t0,2.10t0,2.10t0,2.10t0,2.10t0,2.10t0,2.10t0,2.10t0,2.10t0,2.10t0,2.10t0,2.10t0,2.10t0,2.10t0,2.10t0,2.10t0,2.10t0,2.10t0,2.10" transform="translate(98.44,330.37) scale(1,0.810)"/>
<path d="M0,0q2.30,1.05 0,2.10t0,2.10t0,2.10t0,2.10t0,2.10t0,2.10t0,2.10t0,2.10t0,2.10t0,2.10t0,2.10t0,2.10t0,2.10t0,2.10t0,2.10t0,2.10t0,2.10t0,2.10t0,2.10t0,2.10t0,2.10t0,2.10t0,2.10t0,2.10t0,2.10t0,2.10t0,2.10t0,2.10t0,2.10t0,2.10" transform="translate(96.07,329.69) scale(1,0.814)"/>
<path d="M0,0q2.30,1.05 0,2.10t0,2.10t0,2.10t0,2.10t0,2.10t0,2.10t0,2.10t0,2.10t0,2.10t0,2.10t0,2.10t0,2.10t0,2.10t0,2.10t0,2.10t0,2.10t0,2.10t0,2.10t0,2.10t0,2.10t0,2.10t0,2.10t0,2.10t0,2.10t0,2.10t0,2.10t0,2.10t0,2.10t0,2.10t0,2.10" transform="translate(93.91,328.99) scale(1,0.818)"/>
<path d="M0,0q2.30,1.05 0,2.10t0,2.10t0,2.10t0,2.10t0,2.10t0,2.10t0,2.10t0,2.10t0,2.10t0,2.10t0,2.10t0,2.10t0,2.10t0,2.10t0,2.10t0,2.10t0,2.10t0,2.10t0,2.10t0,2.10t0,2.10t0,2.10t0,2.10t0,2.10t0,2.10t0,2.10t0,2.10t0,2.10t0,2.10t0,2.10" transform="translate(91.95,328.29) scale(1,0.822)"/>
<path d="M0,0q2.30,1.05 0,2.10t0,2.10t0,2.10t0,2.10t0,2.10t0,2.10t0,2.10t0,2.10t0,2.10t0,2.10t0,2.10t0,2.10t0,2.10t0,2.10t0,2.10t0,2.10t0,2.10t0,2.10t0,2.10t0,2.10t0,2.10t0,2.10t0,2.10t0,2.10t0,2.10t0,2.10t0,2.10t0,2.10t0,2.10t0,2.10" transform="translate(90.21,327.57) scale(1,0.826)"/>
<path d="M0,0q2.30,1.05 0,2.10t0,2.10t0,2.10t0,2.10t0,2.10t0,2.10t0,2.10t0,2.10t0,2.10t0,2.10t0,2.10t0,2.10t0,2.10t0,2.10t0,2.10t0,2.10t0,2.10t0,2.10t0,2.10t0,2.10t0,2.10t0,2.10t0,2.10t0,2.10t0,2.10t0,2.10t0,2.10t0,2.10t0,2.10t0,2.10" transform="translate(88.67,326.85) scale(1,0.830)"/>
<path d="M0,0q2.30,1.05 0,2.10t0,2.10t0,2.10t0,2.10t0,2.10t0,2.10t0,2.10t0,2.10t0,2.10t0,2.10t0,2.10t0,2.10t0,2.10t0,2.10t0,2.10t0,2.10t0,2.10t0,2.10t0,2.10t0,2.10t0,2.10t0,2.10t0,2.10t0,2.10t0,2.10t0,2.10t0,2.10t0,2.10t0,2.10t0,2.10" transform="translate(87.35,326.12) scale(1,0.834)"/>
<path d="M0,0q2.30,1.05 0,2.10t0,2.10t0,2.10t0,2.10t0,2.10t0,2.10t0,2.10t0,2.10t0,2.10t0,2.10t0,2.10t0,2.10t0,2.10t0,2.10t0,2.10t0,2.10t0,2.10t0,2.10t0,2.10t0,2.10t0,2.10t0,2.10t0,2.10t0,2.10t0,2.10t0,2.10t0,2.10t0,2.10t0,2.10t0,2.10" transform="translate(86.25,325.38) scale(1,0.838)"/>
<path d="M0,0q2.30,1.05 0,2.10t0,2.10t0,2.10t0,2.10t0,2.10t0,2.10t0,2.10t0,2.10t0,2.10t0,2.10t0,2.10t0,2.10t0,2.10t0,2.10t0,2.10t0,2.10t0,2.10t0,2.10t0,2.10t0,2.10t0,2.10t0,2.10t0,2.10t0,2.10t0,2.10t0,2.10t0,2.10t0,2.10t0,2.10t0,2.10" transform="translate(85.36,324.63) scale(1,0.842)"/>
<path d="M0,0q2.30,1.05 0,2.10t0,2.10t0,2.10t0,2.10t0,2.10t0,2.10t0,2.10t0,2.10t0,2.10t0,2.10t0,2.10t0,2.10t0,2.10t0,2.10t0,2.10t0,2.10t0,2.10t0,2.10t0,2.10t0,2.10t0,2.10t0,2.10t0,2.10t0,2.10t0,2.10t0,2.10t0,2.10t0,2.10t0,2.10t0,2.10" transform="translate(84.69,323.88) scale(1,0.847)"/>
<path d="M0,0q2.30,1.05 0,2.10t0,2.10t0,2.10t0,2.10t0,2.10t0,2.10t0,2.10t0,2.10t0,2.10t0,2.10t0,2.10t0,2.10t0,2.10t0,2.10t0,2.10t0,2.10t0,2.10t0,2.10t0,2.10t0,2.10t0,2.10t0,2.10t0,2.10t0,2.10t0,2.10t0,2.10t0,2.10t0,2.10t0,2.10t0,2.10" transform="translate(84.25,323.13) scale(1,0.851)"/>
<path d="M0,0q2.30,1.05 0,2.10t0,2.10t0,2.10t0,2.10t0,2.10t0,2.10t0,2.10t0,2.10t0,2.10t0,2.10t0,2.10t0,2.10t0,2.10t0,2.10t0,2.10t0,2.10t0,2.10t0,2.10t0,2.10t0,2.10t0,2.10t0,2.10t0,2.10t0,2.10t0,2.10t0,2.10t0,2.10t0,2.10t0,2.10t0,2.10" transform="translate(84.03,322.38) scale(1,0.855)"/>
</g>
<path d="M82.5,322 A135.1,18.7 0 0 0 352.7,322" fill="none" stroke="#000" stroke-width="1.1"/>
<g fill="none" stroke="#000" stroke-width="1.25" stroke-linecap="round">
<path d="M0,0q2.30,1.05 0,2.10t0,2.10t0,2.10t0,2.10t0,2.10t0,2.10t0,2.10t0,2.10t0,2.10t0,2.10t0,2.10t0,2.10t0,2.10t0,2.10t0,2.10t0,2.10t0,2.10t0,2.10t0,2.10t0,2.10t0,2.10t0,2.10t0,2.10t0,2.10t0,2.10t0,2.10t0,2.10t0,2.10t0,2.10t0,2.10" transform="translate(351.17,322.59) scale(1,0.851)"/>
<path d="M0,0q2.30,1.05 0,2.10t0,2.10t0,2.10t0,2.10t0,2.10t0,2.10t0,2.10t0,2.10t0,2.10t0,2.10t0,2.10t0,2.10t0,2.10t0,2.10t0,2.10t0,2.10t0,2.10t0,2.10t0,2.10t0,2.10t0,2.10t0,2.10t0,2.10t0,2.10t0,2.10t0,2.10t0,2.10t0,2.10t0,2.10t0,2.10" transform="translate(350.95,321.78) scale(1,0.855)"/>
<path d="M0,0q2.30,1.05 0,2.10t0,2.10t0,2.10t0,2.10t0,2.10t0,2.10t0,2.10t0,2.10t0,2.10t0,2.10t0,2.10t0,2.10t0,2.10t0,2.10t0,2.10t0,2.10t0,2.10t0,2.10t0,2.10t0,2.10t0,2.10t0,2.10t0,2.10t0,2.10t0,2.10t0,2.10t0,2.10t0,2.10t0,2.10t0,2.10" transform="translate(350.51,320.96) scale(1,0.858)"/>
<path d="M0,0q2.30,1.05 0,2.10t0,2.10t0,2.10t0,2.10t0,2.10t0,2.10t0,2.10t0,2.10t0,2.10t0,2.10t0,2.10t0,2.10t0,2.10t0,2.10t0,2.10t0,2.10t0,2.10t0,2.10t0,2.10t0,2.10t0,2.10t0,2.10t0,2.10t0,2.10t0,2.10t0,2.10t0,2.10t0,2.10t0,2.10t0,2.10" transform="translate(349.84,320.15) scale(1,0.862)"/>
<path d="M0,0q2.30,1.05 0,2.10t0,2.10t0,2.10t0,2.10t0,2.10t0,2.10t0,2.10t0,2.10t0,2.10t0,2.10t0,2.10t0,2.10t0,2.10t0,2.10t0,2.10t0,2.10t0,2.10t0,2.10t0,2.10t0,2.10t0,2.10t0,2.10t0,2.10t0,2.10t0,2.10t0,2.10t0,2.10t0,2.10t0,2.10t0,2.10" transform="translate(348.95,319.35) scale(1,0.865)"/>
<path d="M0,0q2.30,1.05 0,2.10t0,2.10t0,2.10t0,2.10t0,2.10t0,2.10t0,2.10t0,2.10t0,2.10t0,2.10t0,2.10t0,2.10t0,2.10t0,2.10t0,2.10t0,2.10t0,2.10t0,2.10t0,2.10t0,2.10t0,2.10t0,2.10t0,2.10t0,2.10t0,2.10t0,2.10t0,2.10t0,2.10t0,2.10t0,2.10" transform="translate(347.85,318.55) scale(1,0.869)"/>
<path d="M0,0q2.30,1.05 0,2.10t0,2.10t0,2.10t0,2.10t0,2.10t0,2.10t0,2.10t0,2.10t0,2.10t0,2.10t0,2.10t0,2.10t0,2.10t0,2.10t0,2.10t0,2.10t0,2.10t0,2.10t0,2.10t0,2.10t0,2.10t0,2.10t0,2.10t0,2.10t0,2.10t0,2.10t0,2.10t0,2.10t0,2.10t0,2.10" transform="translate(346.53,317.76) scale(1,0.872)"/>
<path d="M0,0q2.30,1.05 0,2.10t0,2.10t0,2.10t0,2.10t0,2.10t0,2.10t0,2.10t0,2.10t0,2.10t0,2.10t0,2.10t0,2.10t0,2.10t0,2.10t0,2.10t0,2.10t0,2.10t0,2.10t0,2.10t0,2.10t0,2.10t0,2.10t0,2.10t0,2.10t0,2.10t0,2.10t0,2.10t0,2.10t0,2.10t0,2.10" transform="translate(344.99,316.98) scale(1,0.876)"/>
<path d="M0,0q2.30,1.05 0,2.10t0,2.10t0,2.10t0,2.10t0,2.10t0,2.10t0,2.10t0,2.10t0,2.10t0,2.10t0,2.10t0,2.10t0,2.10t0,2.10t0,2.10t0,2.10t0,2.10t0,2.10t0,2.10t0,2.10t0,2.10t0,2.10t0,2.10t0,2.10t0,2.10t0,2.10t0,2.10t0,2.10t0,2.10t0,2.10" transform="translate(343.25,316.20) scale(1,0.879)"/>
<path d="M0,0q2.30,1.05 0,2.10t0,2.10t0,2.10t0,2.10t0,2.10t0,2.10t0,2.10t0,2.10t0,2.10t0,2.10t0,2.10t0,2.10t0,2.10t0,2.10t0,2.10t0,2.10t0,2.10t0,2.10t0,2.10t0,2.10t0,2.10t0,2.10t0,2.10t0,2.10t0,2.10t0,2.10t0,2.10t0,2.10t0,2.10t0,2.10" transform="translate(341.29,315.44) scale(1,0.882)"/>
<path d="M0,0q2.30,1.05 0,2.10t0,2.10t0,2.10t0,2.10t0,2.10t0,2.10t0,2.10t0,2.10t0,2.10t0,2.10t0,2.10t0,2.10t0,2.10t0,2.10t0,2.10t0,2.10t0,2.10t0,2.10t0,2.10t0,2.10t0,2.10t0,2.10t0,2.10t0,2.10t0,2.10t0,2.10t0,2.10t0,2.10t0,2.10t0,2.10" transform="translate(339.13,314.69) scale(1,0.885)"/>
<path d="M0,0q2.30,1.05 0,2.10t0,2.10t0,2.10t0,2.10t0,2.10t0,2.10t0,2.10t0,2.10t0,2.10t0,2.10t0,2.10t0,2.10t0,2.10t0,2.10t0,2.10t0,2.10t0,2.10t0,2.10t0,2.10t0,2.10t0,2.10t0,2.10t0,2.10t0,2.10t0,2.10t0,2.10t0,2.10t0,2.10t0,2.10t0,2.10" transform="translate(336.76,313.96) scale(1,0.889)"/>
<path d="M0,0q2.30,1.05 0,2.10t0,2.10t0,2.10t0,2.10t0,2.10t0,2.10t0,2.10t0,2.10t0,2.10t0,2.10t0,2.10t0,2.10t0,2.10t0,2.10t0,2.10t0,2.10t0,2.10t0,2.10t0,2.10t0,2.10t0,2.10t0,2.10t0,2.10t0,2.10t0,2.10t0,2.10t0,2.10t0,2.10t0,2.10t0,2.10" transform="translate(334.20,313.24) scale(1,0.892)"/>
<path d="M0,0q2.30,1.05 0,2.10t0,2.10t0,2.10t0,2.10t0,2.10t0,2.10t0,2.10t0,2.10t0,2.10t0,2.10t0,2.10t0,2.10t0,2.10t0,2.10t0,2.10t0,2.10t0,2.10t0,2.10t0,2.10t0,2.10t0,2.10t0,2.10t0,2.10t0,2.10t0,2.10t0,2.10t0,2.10t0,2.10t0,2.10t0,2.10" transform="translate(331.44,312.53) scale(1,0.895)"/>
<path d="M0,0q2.30,1.05 0,2.10t0,2.10t0,2.10t0,2.10t0,2.10t0,2.10t0,2.10t0,2.10t0,2.10t0,2.10t0,2.10t0,2.10t0,2.10t0,2.10t0,2.10t0,2.10t0,2.10t0,2.10t0,2.10t0,2.10t0,2.10t0,2.10t0,2.10t0,2.10t0,2.10t0,2.10t0,2.10t0,2.10t0,2.10t0,2.10" transform="translate(328.49,311.85) scale(1,0.898)"/>
<path d="M0,0q2.30,1.05 0,2.10t0,2.10t0,2.10t0,2.10t0,2.10t0,2.10t0,2.10t0,2.10t0,2.10t0,2.10t0,2.10t0,2.10t0,2.10t0,2.10t0,2.10t0,2.10t0,2.10t0,2.10t0,2.10t0,2.10t0,2.10t0,2.10t0,2.10t0,2.10t0,2.10t0,2.10t0,2.10t0,2.10t0,2.10t0,2.10" transform="translate(325.36,311.18) scale(1,0.901)"/>
<path d="M0,0q2.30,1.05 0,2.10t0,2.10t0,2.10t0,2.10t0,2.10t0,2.10t0,2.10t0,2.10t0,2.10t0,2.10t0,2.10t0,2.10t0,2.10t0,2.10t0,2.10t0,2.10t0,2.10t0,2.10t0,2.10t0,2.10t0,2.10t0,2.10t0,2.10t0,2.10t0,2.10t0,2.10t0,2.10t0,2.10t0,2.10t0,2.10" transform="translate(322.05,310.53) scale(1,0.904)"/>
<path d="M0,0q2.30,1.05 0,2.10t0,2.10t0,2.10t0,2.10t0,2.10t0,2.10t0,2.10t0,2.10t0,2.10t0,2.10t0,2.10t0,2.10t0,2.10t0,2.10t0,2.10t0,2.10t0,2.10t0,2.10t0,2.10t0,2.10t0,2.10t0,2.10t0,2.10t0,2.10t0,2.10t0,2.10t0,2.10t0,2.10t0,2.10t0,2.10" transform="translate(318.57,309.90) scale(1,0.906)"/>
<path d="M0,0q2.30,1.05 0,2.10t0,2.10t0,2.10t0,2.10t0,2.10t0,2.10t0,2.10t0,2.10t0,2.10t0,2.10t0,2.10t0,2.10t0,2.10t0,2.10t0,2.10t0,2.10t0,2.10t0,2.10t0,2.10t0,2.10t0,2.10t0,2.10t0,2.10t0,2.10t0,2.10t0,2.10t0,2.10t0,2.10t0,2.10t0,2.10" transform="translate(314.92,309.30) scale(1,0.909)"/>
<path d="M0,0q2.30,1.05 0,2.10t0,2.10t0,2.10t0,2.10t0,2.10t0,2.10t0,2.10t0,2.10t0,2.10t0,2.10t0,2.10t0,2.10t0,2.10t0,2.10t0,2.10t0,2.10t0,2.10t0,2.10t0,2.10t0,2.10t0,2.10t0,2.10t0,2.10t0,2.10t0,2.10t0,2.10t0,2.10t0,2.10t0,2.10t0,2.10" transform="translate(311.10,308.71) scale(1,0.912)"/>
<path d="M0,0q2.30,1.05 0,2.10t0,2.10t0,2.10t0,2.10t0,2.10t0,2.10t0,2.10t0,2.10t0,2.10t0,2.10t0,2.10t0,2.10t0,2.10t0,2.10t0,2.10t0,2.10t0,2.10t0,2.10t0,2.10t0,2.10t0,2.10t0,2.10t0,2.10t0,2.10t0,2.10t0,2.10t0,2.10t0,2.10t0,2.10t0,2.10" transform="translate(307.13,308.16) scale(1,0.914)"/>
<path d="M0,0q2.30,1.05 0,2.10t0,2.10t0,2.10t0,2.10t0,2.10t0,2.10t0,2.10t0,2.10t0,2.10t0,2.10t0,2.10t0,2.10t0,2.10t0,2.10t0,2.10t0,2.10t0,2.10t0,2.10t0,2.10t0,2.10t0,2.10t0,2.10t0,2.10t0,2.10t0,2.10t0,2.10t0,2.10t0,2.10t0,2.10t0,2.10" transform="translate(303.01,307.62) scale(1,0.916)"/>
<path d="M0,0q2.30,1.05 0,2.10t0,2.10t0,2.10t0,2.10t0,2.10t0,2.10t0,2.10t0,2.10t0,2.10t0,2.10t0,2.10t0,2.10t0,2.10t0,2.10t0,2.10t0,2.10t0,2.10t0,2.10t0,2.10t0,2.10t0,2.10t0,2.10t0,2.10t0,2.10t0,2.10t0,2.10t0,2.10t0,2.10t0,2.10t0,2.10" transform="translate(298.75,307.11) scale(1,0.919)"/>
<path d="M0,0q2.30,1.05 0,2.10t0,2.10t0,2.10t0,2.10t0,2.10t0,2.10t0,2.10t0,2.10t0,2.10t0,2.10t0,2.10t0,2.10t0,2.10t0,2.10t0,2.10t0,2.10t0,2.10t0,2.10t0,2.10t0,2.10t0,2.10t0,2.10t0,2.10t0,2.10t0,2.10t0,2.10t0,2.10t0,2.10t0,2.10t0,2.10" transform="translate(294.35,306.63) scale(1,0.921)"/>
<path d="M0,0q2.30,1.05 0,2.10t0,2.10t0,2.10t0,2.10t0,2.10t0,2.10t0,2.10t0,2.10t0,2.10t0,2.10t0,2.10t0,2.10t0,2.10t0,2.10t0,2.10t0,2.10t0,2.10t0,2.10t0,2.10t0,2.10t0,2.10t0,2.10t0,2.10t0,2.10t0,2.10t0,2.10t0,2.10t0,2.10t0,2.10t0,2.10" transform="translate(289.83,306.17) scale(1,0.923)"/>
<path d="M0,0q2.30,1.05 0,2.10t0,2.10t0,2.10t0,2.10t0,2.10t0,2.10t0,2.10t0,2.10t0,2.10t0,2.10t0,2.10t0,2.10t0,2.10t0,2.10t0,2.10t0,2.10t0,2.10t0,2.10t0,2.10t0,2.10t0,2.10t0,2.10t0,2.10t0,2.10t0,2.10t0,2.10t0,2.10t0,2.10t0,2.10t0,2.10" transform="translate(285.19,305.75) scale(1,0.925)"/>
<path d="M0,0q2.30,1.05 0,2.10t0,2.10t0,2.10t0,2.10t0,2.10t0,2.10t0,2.10t0,2.10t0,2.10t0,2.10t0,2.10t0,2.10t0,2.10t0,2.10t0,2.10t0,2.10t0,2.10t0,2.10t0,2.10t0,2.10t0,2.10t0,2.10t0,2.10t0,2.10t0,2.10t0,2.10t0,2.10t0,2.10t0,2.10t0,2.10" transform="translate(280.43,305.35) scale(1,0.926)"/>
<path d="M0,0q2.30,1.05 0,2.10t0,2.10t0,2.10t0,2.10t0,2.10t0,2.10t0,2.10t0,2.10t0,2.10t0,2.10t0,2.10t0,2.10t0,2.10t0,2.10t0,2.10t0,2.10t0,2.10t0,2.10t0,2.10t0,2.10t0,2.10t0,2.10t0,2.10t0,2.10t0,2.10t0,2.10t0,2.10t0,2.10t0,2.10t0,2.10" transform="translate(275.57,304.98) scale(1,0.928)"/>
<path d="M0,0q2.30,1.05 0,2.10t0,2.10t0,2.10t0,2.10t0,2.10t0,2.10t0,2.10t0,2.10t0,2.10t0,2.10t0,2.10t0,2.10t0,2.10t0,2.10t0,2.10t0,2.10t0,2.10t0,2.10t0,2.10t0,2.10t0,2.10t0,2.10t0,2.10t0,2.10t0,2.10t0,2.10t0,2.10t0,2.10t0,2.10t0,2.10" transform="translate(270.61,304.64) scale(1,0.929)"/>
<path d="M0,0q2.30,1.05 0,2.10t0,2.10t0,2.10t0,2.10t0,2.10t0,2.10t0,2.10t0,2.10t0,2.10t0,2.10t0,2.10t0,2.10t0,2.10t0,2.10t0,2.10t0,2.10t0,2.10t0,2.10t0,2.10t0,2.10t0,2.10t0,2.10t0,2.10t0,2.10t0,2.10t0,2.10t0,2.10t0,2.10t0,2.10t0,2.10" transform="translate(265.56,304.33) scale(1,0.931)"/>
<path d="M0,0q2.30,1.05 0,2.10t0,2.10t0,2.10t0,2.10t0,2.10t0,2.10t0,2.10t0,2.10t0,2.10t0,2.10t0,2.10t0,2.10t0,2.10t0,2.10t0,2.10t0,2.10t0,2.10t0,2.10t0,2.10t0,2.10t0,2.10t0,2.10t0,2.10t0,2.10t0,2.10t0,2.10t0,2.10t0,2.10t0,2.10t0,2.10" transform="translate(260.44,304.06) scale(1,0.932)"/>
<path d="M0,0q2.30,1.05 0,2.10t0,2.10t0,2.10t0,2.10t0,2.10t0,2.10t0,2.10t0,2.10t0,2.10t0,2.10t0,2.10t0,2.10t0,2.10t0,2.10t0,2.10t0,2.10t0,2.10t0,2.10t0,2.10t0,2.10t0,2.10t0,2.10t0,2.10t0,2.10t0,2.10t0,2.10t0,2.10t0,2.10t0,2.10t0,2.10" transform="translate(255.24,303.81) scale(1,0.933)"/>
<path d="M0,0q2.30,1.05 0,2.10t0,2.10t0,2.10t0,2.10t0,2.10t0,2.10t0,2.10t0,2.10t0,2.10t0,2.10t0,2.10t0,2.10t0,2.10t0,2.10t0,2.10t0,2.10t0,2.10t0,2.10t0,2.10t0,2.10t0,2.10t0,2.10t0,2.10t0,2.10t0,2.10t0,2.10t0,2.10t0,2.10t0,2.10t0,2.10" transform="translate(249.98,303.60) scale(1,0.934)"/>
<path d="M0,0q2.30,1.05 0,2.10t0,2.10t0,2.10t0,2.10t0,2.10t0,2.10t0,2.10t0,2.10t0,2.10t0,2.10t0,2.10t0,2.10t0,2.10t0,2.10t0,2.10t0,2.10t0,2.10t0,2.10t0,2.10t0,2.10t0,2.10t0,2.10t0,2.10t0,2.10t0,2.10t0,2.10t0,2.10t0,2.10t0,2.10t0,2.10" transform="translate(244.67,303.41) scale(1,0.935)"/>
<path d="M0,0q2.30,1.05 0,2.10t0,2.10t0,2.10t0,2.10t0,2.10t0,2.10t0,2.10t0,2.10t0,2.10t0,2.10t0,2.10t0,2.10t0,2.10t0,2.10t0,2.10t0,2.10t0,2.10t0,2.10t0,2.10t0,2.10t0,2.10t0,2.10t0,2.10t0,2.10t0,2.10t0,2.10t0,2.10t0,2.10t0,2.10t0,2.10" transform="translate(239.31,303.27) scale(1,0.935)"/>
<path d="M0,0q2.30,1.05 0,2.10t0,2.10t0,2.10t0,2.10t0,2.10t0,2.10t0,2.10t0,2.10t0,2.10t0,2.10t0,2.10t0,2.10t0,2.10t0,2.10t0,2.10t0,2.10t0,2.10t0,2.10t0,2.10t0,2.10t0,2.10t0,2.10t0,2.10t0,2.10t0,2.10t0,2.10t0,2.10t0,2.10t0,2.10t0,2.10" transform="translate(233.91,303.15) scale(1,0.936)"/>
<path d="M0,0q2.30,1.05 0,2.10t0,2.10t0,2.10t0,2.10t0,2.10t0,2.10t0,2.10t0,2.10t0,2.10t0,2.10t0,2.10t0,2.10t0,2.10t0,2.10t0,2.10t0,2.10t0,2.10t0,2.10t0,2.10t0,2.10t0,2.10t0,2.10t0,2.10t0,2.10t0,2.10t0,2.10t0,2.10t0,2.10t0,2.10t0,2.10" transform="translate(228.49,303.07) scale(1,0.936)"/>
<path d="M0,0q2.30,1.05 0,2.10t0,2.10t0,2.10t0,2.10t0,2.10t0,2.10t0,2.10t0,2.10t0,2.10t0,2.10t0,2.10t0,2.10t0,2.10t0,2.10t0,2.10t0,2.10t0,2.10t0,2.10t0,2.10t0,2.10t0,2.10t0,2.10t0,2.10t0,2.10t0,2.10t0,2.10t0,2.10t0,2.10t0,2.10t0,2.10" transform="translate(223.05,303.02) scale(1,0.936)"/>
<path d="M0,0q2.30,1.05 0,2.10t0,2.10t0,2.10t0,2.10t0,2.10t0,2.10t0,2.10t0,2.10t0,2.10t0,2.10t0,2.10t0,2.10t0,2.10t0,2.10t0,2.10t0,2.10t0,2.10t0,2.10t0,2.10t0,2.10t0,2.10t0,2.10t0,2.10t0,2.10t0,2.10t0,2.10t0,2.10t0,2.10t0,2.10t0,2.10" transform="translate(217.60,303.00) scale(1,0.937)"/>
<path d="M0,0q2.30,1.05 0,2.10t0,2.10t0,2.10t0,2.10t0,2.10t0,2.10t0,2.10t0,2.10t0,2.10t0,2.10t0,2.10t0,2.10t0,2.10t0,2.10t0,2.10t0,2.10t0,2.10t0,2.10t0,2.10t0,2.10t0,2.10t0,2.10t0,2.10t0,2.10t0,2.10t0,2.10t0,2.10t0,2.10t0,2.10t0,2.10" transform="translate(212.15,303.02) scale(1,0.936)"/>
<path d="M0,0q2.30,1.05 0,2.10t0,2.10t0,2.10t0,2.10t0,2.10t0,2.10t0,2.10t0,2.10t0,2.10t0,2.10t0,2.10t0,2.10t0,2.10t0,2.10t0,2.10t0,2.10t0,2.10t0,2.10t0,2.10t0,2.10t0,2.10t0,2.10t0,2.10t0,2.10t0,2.10t0,2.10t0,2.10t0,2.10t0,2.10t0,2.10" transform="translate(206.71,303.07) scale(1,0.936)"/>
<path d="M0,0q2.30,1.05 0,2.10t0,2.10t0,2.10t0,2.10t0,2.10t0,2.10t0,2.10t0,2.10t0,2.10t0,2.10t0,2.10t0,2.10t0,2.10t0,2.10t0,2.10t0,2.10t0,2.10t0,2.10t0,2.10t0,2.10t0,2.10t0,2.10t0,2.10t0,2.10t0,2.10t0,2.10t0,2.10t0,2.10t0,2.10t0,2.10" transform="translate(201.29,303.15) scale(1,0.936)"/>
<path d="M0,0q2.30,1.05 0,2.10t0,2.10t0,2.10t0,2.10t0,2.10t0,2.10t0,2.10t0,2.10t0,2.10t0,2.10t0,2.10t0,2.10t0,2.10t0,2.10t0,2.10t0,2.10t0,2.10t0,2.10t0,2.10t0,2.10t0,2.10t0,2.10t0,2.10t0,2.10t0,2.10t0,2.10t0,2.10t0,2.10t0,2.10t0,2.10" transform="translate(195.89,303.27) scale(1,0.935)"/>
<path d="M0,0q2.30,1.05 0,2.10t0,2.10t0,2.10t0,2.10t0,2.10t0,2.10t0,2.10t0,2.10t0,2.10t0,2.10t0,2.10t0,2.10t0,2.10t0,2.10t0,2.10t0,2.10t0,2.10t0,2.10t0,2.10t0,2.10t0,2.10t0,2.10t0,2.10t0,2.10t0,2.10t0,2.10t0,2.10t0,2.10t0,2.10t0,2.10" transform="translate(190.53,303.41) scale(1,0.935)"/>
<path d="M0,0q2.30,1.05 0,2.10t0,2.10t0,2.10t0,2.10t0,2.10t0,2.10t0,2.10t0,2.10t0,2.10t0,2.10t0,2.10t0,2.10t0,2.10t0,2.10t0,2.10t0,2.10t0,2.10t0,2.10t0,2.10t0,2.10t0,2.10t0,2.10t0,2.10t0,2.10t0,2.10t0,2.10t0,2.10t0,2.10t0,2.10t0,2.10" transform="translate(185.22,303.60) scale(1,0.934)"/>
<path d="M0,0q2.30,1.05 0,2.10t0,2.10t0,2.10t0,2.10t0,2.10t0,2.10t0,2.10t0,2.10t0,2.10t0,2.10t0,2.10t0,2.10t0,2.10t0,2.10t0,2.10t0,2.10t0,2.10t0,2.10t0,2.10t0,2.10t0,2.10t0,2.10t0,2.10t0,2.10t0,2.10t0,2.10t0,2.10t0,2.10t0,2.10t0,2.10" transform="translate(179.96,303.81) scale(1,0.933)"/>
<path d="M0,0q2.30,1.05 0,2.10t0,2.10t0,2.10t0,2.10t0,2.10t0,2.10t0,2.10t0,2.10t0,2.10t0,2.10t0,2.10t0,2.10t0,2.10t0,2.10t0,2.10t0,2.10t0,2.10t0,2.10t0,2.10t0,2.10t0,2.10t0,2.10t0,2.10t0,2.10t0,2.10t0,2.10t0,2.10t0,2.10t0,2.10t0,2.10" transform="translate(174.76,304.06) scale(1,0.932)"/>
<path d="M0,0q2.30,1.05 0,2.10t0,2.10t0,2.10t0,2.10t0,2.10t0,2.10t0,2.10t0,2.10t0,2.10t0,2.10t0,2.10t0,2.10t0,2.10t0,2.10t0,2.10t0,2.10t0,2.10t0,2.10t0,2.10t0,2.10t0,2.10t0,2.10t0,2.10t0,2.10t0,2.10t0,2.10t0,2.10t0,2.10t0,2.10t0,2.10" transform="translate(169.64,304.33) scale(1,0.931)"/>
<path d="M0,0q2.30,1.05 0,2.10t0,2.10t0,2.10t0,2.10t0,2.10t0,2.10t0,2.10t0,2.10t0,2.10t0,2.10t0,2.10t0,2.10t0,2.10t0,2.10t0,2.10t0,2.10t0,2.10t0,2.10t0,2.10t0,2.10t0,2.10t0,2.10t0,2.10t0,2.10t0,2.10t0,2.10t0,2.10t0,2.10t0,2.10t0,2.10" transform="translate(164.59,304.64) scale(1,0.929)"/>
<path d="M0,0q2.30,1.05 0,2.10t0,2.10t0,2.10t0,2.10t0,2.10t0,2.10t0,2.10t0,2.10t0,2.10t0,2.10t0,2.10t0,2.10t0,2.10t0,2.10t0,2.10t0,2.10t0,2.10t0,2.10t0,2.10t0,2.10t0,2.10t0,2.10t0,2.10t0,2.10t0,2.10t0,2.10t0,2.10t0,2.10t0,2.10t0,2.10" transform="translate(159.63,304.98) scale(1,0.928)"/>
<path d="M0,0q2.30,1.05 0,2.10t0,2.10t0,2.10t0,2.10t0,2.10t0,2.10t0,2.10t0,2.10t0,2.10t0,2.10t0,2.10t0,2.10t0,2.10t0,2.10t0,2.10t0,2.10t0,2.10t0,2.10t0,2.10t0,2.10t0,2.10t0,2.10t0,2.10t0,2.10t0,2.10t0,2.10t0,2.10t0,2.10t0,2.10t0,2.10" transform="translate(154.77,305.35) scale(1,0.926)"/>
<path d="M0,0q2.30,1.05 0,2.10t0,2.10t0,2.10t0,2.10t0,2.10t0,2.10t0,2.10t0,2.10t0,2.10t0,2.10t0,2.10t0,2.10t0,2.10t0,2.10t0,2.10t0,2.10t0,2.10t0,2.10t0,2.10t0,2.10t0,2.10t0,2.10t0,2.10t0,2.10t0,2.10t0,2.10t0,2.10t0,2.10t0,2.10t0,2.10" transform="translate(150.01,305.75) scale(1,0.925)"/>
<path d="M0,0q2.30,1.05 0,2.10t0,2.10t0,2.10t0,2.10t0,2.10t0,2.10t0,2.10t0,2.10t0,2.10t0,2.10t0,2.10t0,2.10t0,2.10t0,2.10t0,2.10t0,2.10t0,2.10t0,2.10t0,2.10t0,2.10t0,2.10t0,2.10t0,2.10t0,2.10t0,2.10t0,2.10t0,2.10t0,2.10t0,2.10t0,2.10" transform="translate(145.37,306.17) scale(1,0.923)"/>
<path d="M0,0q2.30,1.05 0,2.10t0,2.10t0,2.10t0,2.10t0,2.10t0,2.10t0,2.10t0,2.10t0,2.10t0,2.10t0,2.10t0,2.10t0,2.10t0,2.10t0,2.10t0,2.10t0,2.10t0,2.10t0,2.10t0,2.10t0,2.10t0,2.10t0,2.10t0,2.10t0,2.10t0,2.10t0,2.10t0,2.10t0,2.10t0,2.10" transform="translate(140.85,306.63) scale(1,0.921)"/>
<path d="M0,0q2.30,1.05 0,2.10t0,2.10t0,2.10t0,2.10t0,2.10t0,2.10t0,2.10t0,2.10t0,2.10t0,2.10t0,2.10t0,2.10t0,2.10t0,2.10t0,2.10t0,2.10t0,2.10t0,2.10t0,2.10t0,2.10t0,2.10t0,2.10t0,2.10t0,2.10t0,2.10t0,2.10t0,2.10t0,2.10t0,2.10t0,2.10" transform="translate(136.45,307.11) scale(1,0.919)"/>
<path d="M0,0q2.30,1.05 0,2.10t0,2.10t0,2.10t0,2.10t0,2.10t0,2.10t0,2.10t0,2.10t0,2.10t0,2.10t0,2.10t0,2.10t0,2.10t0,2.10t0,2.10t0,2.10t0,2.10t0,2.10t0,2.10t0,2.10t0,2.10t0,2.10t0,2.10t0,2.10t0,2.10t0,2.10t0,2.10t0,2.10t0,2.10t0,2.10" transform="translate(132.19,307.62) scale(1,0.916)"/>
<path d="M0,0q2.30,1.05 0,2.10t0,2.10t0,2.10t0,2.10t0,2.10t0,2.10t0,2.10t0,2.10t0,2.10t0,2.10t0,2.10t0,2.10t0,2.10t0,2.10t0,2.10t0,2.10t0,2.10t0,2.10t0,2.10t0,2.10t0,2.10t0,2.10t0,2.10t0,2.10t0,2.10t0,2.10t0,2.10t0,2.10t0,2.10t0,2.10" transform="translate(128.07,308.16) scale(1,0.914)"/>
<path d="M0,0q2.30,1.05 0,2.10t0,2.10t0,2.10t0,2.10t0,2.10t0,2.10t0,2.10t0,2.10t0,2.10t0,2.10t0,2.10t0,2.10t0,2.10t0,2.10t0,2.10t0,2.10t0,2.10t0,2.10t0,2.10t0,2.10t0,2.10t0,2.10t0,2.10t0,2.10t0,2.10t0,2.10t0,2.10t0,2.10t0,2.10t0,2.10" transform="translate(124.10,308.71) scale(1,0.912)"/>
<path d="M0,0q2.30,1.05 0,2.10t0,2.10t0,2.10t0,2.10t0,2.10t0,2.10t0,2.10t0,2.10t0,2.10t0,2.10t0,2.10t0,2.10t0,2.10t0,2.10t0,2.10t0,2.10t0,2.10t0,2.10t0,2.10t0,2.10t0,2.10t0,2.10t0,2.10t0,2.10t0,2.10t0,2.10t0,2.10t0,2.10t0,2.10t0,2.10" transform="translate(120.28,309.30) scale(1,0.909)"/>
<path d="M0,0q2.30,1.05 0,2.10t0,2.10t0,2.10t0,2.10t0,2.10t0,2.10t0,2.10t0,2.10t0,2.10t0,2.10t0,2.10t0,2.10t0,2.10t0,2.10t0,2.10t0,2.10t0,2.10t0,2.10t0,2.10t0,2.10t0,2.10t0,2.10t0,2.10t0,2.10t0,2.10t0,2.10t0,2.10t0,2.10t0,2.10t0,2.10" transform="translate(116.63,309.90) scale(1,0.906)"/>
<path d="M0,0q2.30,1.05 0,2.10t0,2.10t0,2.10t0,2.10t0,2.10t0,2.10t0,2.10t0,2.10t0,2.10t0,2.10t0,2.10t0,2.10t0,2.10t0,2.10t0,2.10t0,2.10t0,2.10t0,2.10t0,2.10t0,2.10t0,2.10t0,2.10t0,2.10t0,2.10t0,2.10t0,2.10t0,2.10t0,2.10t0,2.10t0,2.10" transform="translate(113.15,310.53) scale(1,0.904)"/>
<path d="M0,0q2.30,1.05 0,2.10t0,2.10t0,2.10t0,2.10t0,2.10t0,2.10t0,2.10t0,2.10t0,2.10t0,2.10t0,2.10t0,2.10t0,2.10t0,2.10t0,2.10t0,2.10t0,2.10t0,2.10t0,2.10t0,2.10t0,2.10t0,2.10t0,2.10t0,2.10t0,2.10t0,2.10t0,2.10t0,2.10t0,2.10t0,2.10" transform="translate(109.84,311.18) scale(1,0.901)"/>
<path d="M0,0q2.30,1.05 0,2.10t0,2.10t0,2.10t0,2.10t0,2.10t0,2.10t0,2.10t0,2.10t0,2.10t0,2.10t0,2.10t0,2.10t0,2.10t0,2.10t0,2.10t0,2.10t0,2.10t0,2.10t0,2.10t0,2.10t0,2.10t0,2.10t0,2.10t0,2.10t0,2.10t0,2.10t0,2.10t0,2.10t0,2.10t0,2.10" transform="translate(106.71,311.85) scale(1,0.898)"/>
<path d="M0,0q2.30,1.05 0,2.10t0,2.10t0,2.10t0,2.10t0,2.10t0,2.10t0,2.10t0,2.10t0,2.10t0,2.10t0,2.10t0,2.10t0,2.10t0,2.10t0,2.10t0,2.10t0,2.10t0,2.10t0,2.10t0,2.10t0,2.10t0,2.10t0,2.10t0,2.10t0,2.10t0,2.10t0,2.10t0,2.10t0,2.10t0,2.10" transform="translate(103.76,312.53) scale(1,0.895)"/>
<path d="M0,0q2.30,1.05 0,2.10t0,2.10t0,2.10t0,2.10t0,2.10t0,2.10t0,2.10t0,2.10t0,2.10t0,2.10t0,2.10t0,2.10t0,2.10t0,2.10t0,2.10t0,2.10t0,2.10t0,2.10t0,2.10t0,2.10t0,2.10t0,2.10t0,2.10t0,2.10t0,2.10t0,2.10t0,2.10t0,2.10t0,2.10t0,2.10" transform="translate(101.00,313.24) scale(1,0.892)"/>
<path d="M0,0q2.30,1.05 0,2.10t0,2.10t0,2.10t0,2.10t0,2.10t0,2.10t0,2.10t0,2.10t0,2.10t0,2.10t0,2.10t0,2.10t0,2.10t0,2.10t0,2.10t0,2.10t0,2.10t0,2.10t0,2.10t0,2.10t0,2.10t0,2.10t0,2.10t0,2.10t0,2.10t0,2.10t0,2.10t0,2.10t0,2.10t0,2.10" transform="translate(98.44,313.96) scale(1,0.889)"/>
<path d="M0,0q2.30,1.05 0,2.10t0,2.10t0,2.10t0,2.10t0,2.10t0,2.10t0,2.10t0,2.10t0,2.10t0,2.10t0,2.10t0,2.10t0,2.10t0,2.10t0,2.10t0,2.10t0,2.10t0,2.10t0,2.10t0,2.10t0,2.10t0,2.10t0,2.10t0,2.10t0,2.10t0,2.10t0,2.10t0,2.10t0,2.10t0,2.10" transform="translate(96.07,314.69) scale(1,0.885)"/>
<path d="M0,0q2.30,1.05 0,2.10t0,2.10t0,2.10t0,2.10t0,2.10t0,2.10t0,2.10t0,2.10t0,2.10t0,2.10t0,2.10t0,2.10t0,2.10t0,2.10t0,2.10t0,2.10t0,2.10t0,2.10t0,2.10t0,2.10t0,2.10t0,2.10t0,2.10t0,2.10t0,2.10t0,2.10t0,2.10t0,2.10t0,2.10t0,2.10" transform="translate(93.91,315.44) scale(1,0.882)"/>
<path d="M0,0q2.30,1.05 0,2.10t0,2.10t0,2.10t0,2.10t0,2.10t0,2.10t0,2.10t0,2.10t0,2.10t0,2.10t0,2.10t0,2.10t0,2.10t0,2.10t0,2.10t0,2.10t0,2.10t0,2.10t0,2.10t0,2.10t0,2.10t0,2.10t0,2.10t0,2.10t0,2.10t0,2.10t0,2.10t0,2.10t0,2.10t0,2.10" transform="translate(91.95,316.20) scale(1,0.879)"/>
<path d="M0,0q2.30,1.05 0,2.10t0,2.10t0,2.10t0,2.10t0,2.10t0,2.10t0,2.10t0,2.10t0,2.10t0,2.10t0,2.10t0,2.10t0,2.10t0,2.10t0,2.10t0,2.10t0,2.10t0,2.10t0,2.10t0,2.10t0,2.10t0,2.10t0,2.10t0,2.10t0,2.10t0,2.10t0,2.10t0,2.10t0,2.10t0,2.10" transform="translate(90.21,316.98) scale(1,0.876)"/>
<path d="M0,0q2.30,1.05 0,2.10t0,2.10t0,2.10t0,2.10t0,2.10t0,2.10t0,2.10t0,2.10t0,2.10t0,2.10t0,2.10t0,2.10t0,2.10t0,2.10t0,2.10t0,2.10t0,2.10t0,2.10t0,2.10t0,2.10t0,2.10t0,2.10t0,2.10t0,2.10t0,2.10t0,2.10t0,2.10t0,2.10t0,2.10t0,2.10" transform="translate(88.67,317.76) scale(1,0.872)"/>
<path d="M0,0q2.30,1.05 0,2.10t0,2.10t0,2.10t0,2.10t0,2.10t0,2.10t0,2.10t0,2.10t0,2.10t0,2.10t0,2.10t0,2.10t0,2.10t0,2.10t0,2.10t0,2.10t0,2.10t0,2.10t0,2.10t0,2.10t0,2.10t0,2.10t0,2.10t0,2.10t0,2.10t0,2.10t0,2.10t0,2.10t0,2.10t0,2.10" transform="translate(87.35,318.55) scale(1,0.869)"/>
<path d="M0,0q2.30,1.05 0,2.10t0,2.10t0,2.10t0,2.10t0,2.10t0,2.10t0,2.10t0,2.10t0,2.10t0,2.10t0,2.10t0,2.10t0,2.10t0,2.10t0,2.10t0,2.10t0,2.10t0,2.10t0,2.10t0,2.10t0,2.10t0,2.10t0,2.10t0,2.10t0,2.10t0,2.10t0,2.10t0,2.10t0,2.10t0,2.10" transform="translate(86.25,319.35) scale(1,0.865)"/>
<path d="M0,0q2.30,1.05 0,2.10t0,2.10t0,2.10t0,2.10t0,2.10t0,2.10t0,2.10t0,2.10t0,2.10t0,2.10t0,2.10t0,2.10t0,2.10t0,2.10t0,2.10t0,2.10t0,2.10t0,2.10t0,2.10t0,2.10t0,2.10t0,2.10t0,2.10t0,2.10t0,2.10t0,2.10t0,2.10t0,2.10t0,2.10t0,2.10" transform="translate(85.36,320.15) scale(1,0.862)"/>
<path d="M0,0q2.30,1.05 0,2.10t0,2.10t0,2.10t0,2.10t0,2.10t0,2.10t0,2.10t0,2.10t0,2.10t0,2.10t0,2.10t0,2.10t0,2.10t0,2.10t0,2.10t0,2.10t0,2.10t0,2.10t0,2.10t0,2.10t0,2.10t0,2.10t0,2.10t0,2.10t0,2.10t0,2.10t0,2.10t0,2.10t0,2.10t0,2.10" transform="translate(84.69,320.96) scale(1,0.858)"/>
<path d="M0,0q2.30,1.05 0,2.10t0,2.10t0,2.10t0,2.10t0,2.10t0,2.10t0,2.10t0,2.10t0,2.10t0,2.10t0,2.10t0,2.10t0,2.10t0,2.10t0,2.10t0,2.10t0,2.10t0,2.10t0,2.10t0,2.10t0,2.10t0,2.10t0,2.10t0,2.10t0,2.10t0,2.10t0,2.10t0,2.10t0,2.10t0,2.10" transform="translate(84.25,321.78) scale(1,0.855)"/>
<path d="M0,0q2.30,1.05 0,2.10t0,2.10t0,2.10t0,2.10t0,2.10t0,2.10t0,2.10t0,2.10t0,2.10t0,2.10t0,2.10t0,2.10t0,2.10t0,2.10t0,2.10t0,2.10t0,2.10t0,2.10t0,2.10t0,2.10t0,2.10t0,2.10t0,2.10t0,2.10t0,2.10t0,2.10t0,2.10t0,2.10t0,2.10t0,2.10" transform="translate(84.03,322.59) scale(1,0.851)"/>
</g>
<path d="M81.8,320.8 A135.8,21.4 0 0 1 353.3,320.8 L352.3,323 A134.7,20.1 0 0 0 83,323 Z" fill="#fff" stroke="none"/>
<path d="M81.8,320.8 A135.8,21.4 0 0 1 353.3,320.8" fill="none" stroke="#000" stroke-width="1.8"/>
<path d="M83,323 A134.7,20.1 0 0 1 352.3,323" fill="none" stroke="#000" stroke-width="1.1"/>
<path d="M207.60,331.00 L207.89,332.61 L208.09,334.22 L208.21,335.83 L208.27,337.44 L208.30,339.05 L208.30,340.66 L208.03,342.27 L207.31,343.88 L206.30,345.49 L205.18,347.10 L204.08,348.71 L203.12,350.32 L202.05,351.93 L200.90,353.54 L199.78,355.15 L198.80,356.76 L198.05,358.37 L197.59,359.98 L197.20,361.59 L196.85,363.20 L196.54,364.81 L196.31,366.42 L196.15,368.03 L196.10,369.64 L196.13,371.25 L196.21,372.86 L196.33,374.47 L196.50,376.08 L196.69,377.69 L196.90,379.30 L197.25,380.91 L197.82,382.52 L198.54,384.13 L199.33,385.74 L200.14,387.35 L200.90,388.96 L201.65,390.57 L202.47,392.18 L203.32,393.79 L204.14,395.40 L204.89,397.01 L205.53,398.62 L206.04,400.23 L206.51,401.84 L206.94,403.45 L207.32,405.06 L207.64,406.67 L207.90,408.28 L208.08,409.89 L208.20,411.50 L227.00,411.50 L227.12,409.89 L227.30,408.28 L227.56,406.67 L227.88,405.06 L228.26,403.45 L228.69,401.84 L229.16,400.23 L229.67,398.62 L230.31,397.01 L231.06,395.40 L231.88,393.79 L232.73,392.18 L233.55,390.57 L234.30,388.96 L235.06,387.35 L235.87,385.74 L236.66,384.13 L237.38,382.52 L237.95,380.91 L238.30,379.30 L238.51,377.69 L238.70,376.08 L238.87,374.47 L238.99,372.86 L239.07,371.25 L239.10,369.64 L239.05,368.03 L238.89,366.42 L238.66,364.81 L238.35,363.20 L238.00,361.59 L237.61,359.98 L237.15,358.37 L236.40,356.76 L235.42,355.15 L234.30,353.54 L233.15,351.93 L232.08,350.32 L231.12,348.71 L230.02,347.10 L228.90,345.49 L227.89,343.88 L227.17,342.27 L226.90,340.66 L226.90,339.05 L226.93,337.44 L226.99,335.83 L227.11,334.22 L227.31,332.61 L227.60,331.00 Z" fill="#fff" stroke="#000" stroke-width="1.4" stroke-linejoin="round"/>
<clipPath id="cg"><path d="M207.60,331.00 L207.89,332.61 L208.09,334.22 L208.21,335.83 L208.27,337.44 L208.30,339.05 L208.30,340.66 L208.03,342.27 L207.31,343.88 L206.30,345.49 L205.18,347.10 L204.08,348.71 L203.12,350.32 L202.05,351.93 L200.90,353.54 L199.78,355.15 L198.80,356.76 L198.05,358.37 L197.59,359.98 L197.20,361.59 L196.85,363.20 L196.54,364.81 L196.31,366.42 L196.15,368.03 L196.10,369.64 L196.13,371.25 L196.21,372.86 L196.33,374.47 L196.50,376.08 L196.69,377.69 L196.90,379.30 L197.25,380.91 L197.82,382.52 L198.54,384.13 L199.33,385.74 L200.14,387.35 L200.90,388.96 L201.65,390.57 L202.47,392.18 L203.32,393.79 L204.14,395.40 L204.89,397.01 L205.53,398.62 L206.04,400.23 L206.51,401.84 L206.94,403.45 L207.32,405.06 L207.64,406.67 L207.90,408.28 L208.08,409.89 L208.20,411.50 L227.00,411.50 L227.12,409.89 L227.30,408.28 L227.56,406.67 L227.88,405.06 L228.26,403.45 L228.69,401.84 L229.16,400.23 L229.67,398.62 L230.31,397.01 L231.06,395.40 L231.88,393.79 L232.73,392.18 L233.55,390.57 L234.30,388.96 L235.06,387.35 L235.87,385.74 L236.66,384.13 L237.38,382.52 L237.95,380.91 L238.30,379.30 L238.51,377.69 L238.70,376.08 L238.87,374.47 L238.99,372.86 L239.07,371.25 L239.10,369.64 L239.05,368.03 L238.89,366.42 L238.66,364.81 L238.35,363.20 L238.00,361.59 L237.61,359.98 L237.15,358.37 L236.40,356.76 L235.42,355.15 L234.30,353.54 L233.15,351.93 L232.08,350.32 L231.12,348.71 L230.02,347.10 L228.90,345.49 L227.89,343.88 L227.17,342.27 L226.90,340.66 L226.90,339.05 L226.93,337.44 L226.99,335.83 L227.11,334.22 L227.31,332.61 L227.60,331.00 Z"/></clipPath>
<g fill="none" stroke-linecap="butt" clip-path="url(#cg)">
<path d="M214.2,331.0 V411.5 M221.0,331.0 V411.5" stroke="#000" stroke-width="1"/>
<path d="M236.12,360.52 L236.46,361.86 L236.70,363.20 L236.84,364.54 L236.85,365.88 L236.74,367.23 L236.50,368.57 L236.11,369.91 L235.62,371.25 L235.02,372.59 L234.34,373.93 L233.59,375.27 L232.76,376.62 L231.88,377.96 L230.95,379.30 L229.92,380.64 L228.78,381.98 L227.57,383.32 L226.34,384.67 L225.13,386.01 L223.96,387.35 L222.85,388.69 L221.81,390.03 L220.80,391.38 L219.86,392.72 L219.00,394.06 L218.21,395.40 L217.50,396.74 L216.86,398.08 L216.28,399.43 L215.75,400.77 L215.27,402.11 L214.84,403.45 L214.44,404.79 L214.07,406.13 L213.73,407.48 L213.40,408.82 L213.07,410.16 L212.75,411.50" stroke="#000" stroke-width="2.6"/>
<path d="M236.12,360.52 L236.46,361.86 L236.70,363.20 L236.84,364.54 L236.85,365.88 L236.74,367.23 L236.50,368.57 L236.11,369.91 L235.62,371.25 L235.02,372.59 L234.34,373.93 L233.59,375.27 L232.76,376.62 L231.88,377.96 L230.95,379.30 L229.92,380.64 L228.78,381.98 L227.57,383.32 L226.34,384.67 L225.13,386.01 L223.96,387.35 L222.85,388.69 L221.81,390.03 L220.80,391.38 L219.86,392.72 L219.00,394.06 L218.21,395.40 L217.50,396.74 L216.86,398.08 L216.28,399.43 L215.75,400.77 L215.27,402.11 L214.84,403.45 L214.44,404.79 L214.07,406.13 L213.73,407.48 L213.40,408.82 L213.07,410.16 L212.75,411.50" stroke="#fff" stroke-width="1.0"/>
<path d="M225.88,343.07 L226.60,344.42 L227.45,345.76 L228.32,347.10 L229.11,348.44 L229.74,349.78 L230.33,351.12 L230.92,352.47 L231.45,353.81 L231.84,355.15 L232.06,356.49 L232.04,357.83 L231.76,359.18 L231.30,360.52 L230.75,361.86 L230.10,363.20 L229.36,364.54 L228.53,365.88 L227.61,367.23 L226.60,368.57 L225.53,369.91 L224.41,371.25 L223.26,372.59 L222.08,373.93 L220.90,375.27 L219.71,376.62 L218.54,377.96 L217.38,379.30 L216.25,380.64 L215.18,381.98 L214.19,383.32 L213.30,384.67 L212.52,386.01 L211.82,387.35 L211.21,388.69 L210.68,390.03 L210.27,391.38 L209.97,392.72 L209.77,394.06 L209.65,395.40 L209.59,396.74 L209.56,398.08 L209.52,399.43 L209.49,400.77 L209.50,402.11 L209.54,403.45 L209.60,404.79 L209.67,406.13 L209.74,407.48 L209.79,408.82 L209.83,410.16 L209.85,411.50" stroke="#000" stroke-width="2.6"/>
<path d="M225.88,343.07 L226.60,344.42 L227.45,345.76 L228.32,347.10 L229.11,348.44 L229.74,349.78 L230.33,351.12 L230.92,352.47 L231.45,353.81 L231.84,355.15 L232.06,356.49 L232.04,357.83 L231.76,359.18 L231.30,360.52 L230.75,361.86 L230.10,363.20 L229.36,364.54 L228.53,365.88 L227.61,367.23 L226.60,368.57 L225.53,369.91 L224.41,371.25 L223.26,372.59 L222.08,373.93 L220.90,375.27 L219.71,376.62 L218.54,377.96 L217.38,379.30 L216.25,380.64 L215.18,381.98 L214.19,383.32 L213.30,384.67 L212.52,386.01 L211.82,387.35 L211.21,388.69 L210.68,390.03 L210.27,391.38 L209.97,392.72 L209.77,394.06 L209.65,395.40 L209.59,396.74 L209.56,398.08 L209.52,399.43 L209.49,400.77 L209.50,402.11 L209.54,403.45 L209.60,404.79 L209.67,406.13 L209.74,407.48 L209.79,408.82 L209.83,410.16 L209.85,411.50" stroke="#fff" stroke-width="1.0"/>
<path d="M225.83,331.00 L225.47,332.34 L225.16,333.68 L224.88,335.02 L224.62,336.37 L224.37,337.71 L224.12,339.05 L223.86,340.39 L223.68,341.73 L223.71,343.07 L223.86,344.42 L224.03,345.76 L224.13,347.10 L224.11,348.44 L223.92,349.78 L223.64,351.12 L223.28,352.47 L222.80,353.81 L222.19,355.15 L221.43,356.49 L220.54,357.83 L219.53,359.18 L218.45,360.52 L217.33,361.86 L216.18,363.20 L215.00,364.54 L213.80,365.88 L212.61,367.23 L211.44,368.57 L210.30,369.91 L209.21,371.25 L208.18,372.59 L207.19,373.93 L206.28,375.27 L205.43,376.62 L204.65,377.96 L203.94,379.30 L203.37,380.64 L203.00,381.98 L202.81,383.32 L202.78,384.67 L202.88,386.01 L203.07,387.35 L203.32,388.69 L203.61,390.03 L204.03,391.38 L204.55,392.72 L205.13,394.06 L205.75,395.40 L206.37,396.74" stroke="#000" stroke-width="2.6"/>
<path d="M225.83,331.00 L225.47,332.34 L225.16,333.68 L224.88,335.02 L224.62,336.37 L224.37,337.71 L224.12,339.05 L223.86,340.39 L223.68,341.73 L223.71,343.07 L223.86,344.42 L224.03,345.76 L224.13,347.10 L224.11,348.44 L223.92,349.78 L223.64,351.12 L223.28,352.47 L222.80,353.81 L222.19,355.15 L221.43,356.49 L220.54,357.83 L219.53,359.18 L218.45,360.52 L217.33,361.86 L216.18,363.20 L215.00,364.54 L213.80,365.88 L212.61,367.23 L211.44,368.57 L210.30,369.91 L209.21,371.25 L208.18,372.59 L207.19,373.93 L206.28,375.27 L205.43,376.62 L204.65,377.96 L203.94,379.30 L203.37,380.64 L203.00,381.98 L202.81,383.32 L202.78,384.67 L202.88,386.01 L203.07,387.35 L203.32,388.69 L203.61,390.03 L204.03,391.38 L204.55,392.72 L205.13,394.06 L205.75,395.40 L206.37,396.74" stroke="#fff" stroke-width="1.0"/>
<path d="M222.24,331.00 L221.68,332.34 L221.17,333.68 L220.69,335.02 L220.22,336.37 L219.77,337.71 L219.31,339.05 L218.86,340.39 L218.41,341.73 L217.96,343.07 L217.45,344.42 L216.84,345.76 L216.12,347.10 L215.30,348.44 L214.40,349.78 L213.41,351.12 L212.31,352.47 L211.11,353.81 L209.85,355.15 L208.56,356.49 L207.31,357.83 L206.17,359.18 L205.11,360.52 L204.08,361.86 L203.09,363.20 L202.16,364.54 L201.30,365.88 L200.54,367.23 L199.88,368.57 L199.35,369.91 L198.93,371.25 L198.62,372.59 L198.40,373.93 L198.29,375.27 L198.27,376.62 L198.34,377.96 L198.50,379.30" stroke="#000" stroke-width="2.6"/>
<path d="M222.24,331.00 L221.68,332.34 L221.17,333.68 L220.69,335.02 L220.22,336.37 L219.77,337.71 L219.31,339.05 L218.86,340.39 L218.41,341.73 L217.96,343.07 L217.45,344.42 L216.84,345.76 L216.12,347.10 L215.30,348.44 L214.40,349.78 L213.41,351.12 L212.31,352.47 L211.11,353.81 L209.85,355.15 L208.56,356.49 L207.31,357.83 L206.17,359.18 L205.11,360.52 L204.08,361.86 L203.09,363.20 L202.16,364.54 L201.30,365.88 L200.54,367.23 L199.88,368.57 L199.35,369.91 L198.93,371.25 L198.62,372.59 L198.40,373.93 L198.29,375.27 L198.27,376.62 L198.34,377.96 L198.50,379.30" stroke="#fff" stroke-width="1.0"/>
<path d="M215.93,331.00 L215.50,332.34 L215.09,333.68 L214.69,335.02 L214.29,336.37 L213.89,337.71 L213.50,339.05 L213.12,340.39 L212.67,341.73 L212.00,343.07 L211.13,344.42 L210.10,345.76 L208.97,347.10 L207.83,348.44 L206.75,349.78 L205.64,351.12 L204.44,352.47 L203.22,353.81 L202.05,355.15 L200.99,356.49 L200.12,357.83 L199.50,359.18 L199.08,360.52 L198.74,361.86" stroke="#000" stroke-width="2.6"/>
<path d="M215.93,331.00 L215.50,332.34 L215.09,333.68 L214.69,335.02 L214.29,336.37 L213.89,337.71 L213.50,339.05 L213.12,340.39 L212.67,341.73 L212.00,343.07 L211.13,344.42 L210.10,345.76 L208.97,347.10 L207.83,348.44 L206.75,349.78 L205.64,351.12 L204.44,352.47 L203.22,353.81 L202.05,355.15 L200.99,356.49 L200.12,357.83 L199.50,359.18 L199.08,360.52 L198.74,361.86" stroke="#fff" stroke-width="1.0"/>
<path d="M210.60,331.00 L210.55,332.34 L210.48,333.68 L210.39,335.02 L210.29,336.37 L210.19,337.71 L210.09,339.05 L210.00,340.39 L209.82,341.73 L209.32,343.07 L208.60,344.42" stroke="#000" stroke-width="2.6"/>
<path d="M210.60,331.00 L210.55,332.34 L210.48,333.68 L210.39,335.02 L210.29,336.37 L210.19,337.71 L210.09,339.05 L210.00,340.39 L209.82,341.73 L209.32,343.07 L208.60,344.42" stroke="#fff" stroke-width="1.0"/>
<path d="M228.83,396.74 L228.24,398.08 L227.71,399.43 L227.22,400.77 L226.73,402.11 L226.23,403.45 L225.75,404.79 L225.29,406.13 L224.85,407.48 L224.44,408.82 L224.07,410.16 L223.71,411.50" stroke="#000" stroke-width="2.6"/>
<path d="M228.83,396.74 L228.24,398.08 L227.71,399.43 L227.22,400.77 L226.73,402.11 L226.23,403.45 L225.75,404.79 L225.29,406.13 L224.85,407.48 L224.44,408.82 L224.07,410.16 L223.71,411.50" stroke="#fff" stroke-width="1.0"/>
<path d="M236.86,377.96 L236.70,379.30 L236.37,380.64 L235.83,381.98 L235.11,383.32 L234.26,384.67 L233.33,386.01 L232.37,387.35 L231.41,388.69 L230.47,390.03 L229.46,391.38 L228.43,392.72 L227.40,394.06 L226.41,395.40 L225.47,396.74 L224.60,398.08 L223.82,399.43 L223.10,400.77 L222.41,402.11 L221.75,403.45 L221.13,404.79 L220.54,406.13 L219.99,407.48 L219.47,408.82 L218.97,410.16 L218.49,411.50" stroke="#000" stroke-width="2.6"/>
<path d="M236.86,377.96 L236.70,379.30 L236.37,380.64 L235.83,381.98 L235.11,383.32 L234.26,384.67 L233.33,386.01 L232.37,387.35 L231.41,388.69 L230.47,390.03 L229.46,391.38 L228.43,392.72 L227.40,394.06 L226.41,395.40 L225.47,396.74 L224.60,398.08 L223.82,399.43 L223.10,400.77 L222.41,402.11 L221.75,403.45 L221.13,404.79 L220.54,406.13 L219.99,407.48 L219.47,408.82 L218.97,410.16 L218.49,411.50" stroke="#fff" stroke-width="1.0"/>
<path d="M219.27,331.00 L219.70,332.34 L220.11,333.68 L220.51,335.02 L220.91,336.37 L221.31,337.71 L221.70,339.05 L222.08,340.39 L222.53,341.73 L223.20,343.07 L224.07,344.42 L225.10,345.76 L226.23,347.10 L227.37,348.44 L228.45,349.78 L229.56,351.12 L230.76,352.47 L231.98,353.81 L233.15,355.15 L234.21,356.49 L235.08,357.83 L235.70,359.18 L236.12,360.52 L236.46,361.86" stroke="#000" stroke-width="3.6"/>
<path d="M219.27,331.00 L219.70,332.34 L220.11,333.68 L220.51,335.02 L220.91,336.37 L221.31,337.71 L221.70,339.05 L222.08,340.39 L222.53,341.73 L223.20,343.07 L224.07,344.42 L225.10,345.76 L226.23,347.10 L227.37,348.44 L228.45,349.78 L229.56,351.12 L230.76,352.47 L231.98,353.81 L233.15,355.15 L234.21,356.49 L235.08,357.83 L235.70,359.18 L236.12,360.52 L236.46,361.86" stroke="#fff" stroke-width="1.7"/>
<path d="M224.60,331.00 L224.65,332.34 L224.72,333.68 L224.81,335.02 L224.91,336.37 L225.01,337.71 L225.11,339.05 L225.20,340.39 L225.38,341.73 L225.88,343.07 L226.60,344.42" stroke="#000" stroke-width="3.6"/>
<path d="M224.60,331.00 L224.65,332.34 L224.72,333.68 L224.81,335.02 L224.91,336.37 L225.01,337.71 L225.11,339.05 L225.20,340.39 L225.38,341.73 L225.88,343.07 L226.60,344.42" stroke="#fff" stroke-width="1.7"/>
<path d="M206.37,396.74 L206.96,398.08 L207.49,399.43 L207.98,400.77 L208.47,402.11 L208.97,403.45 L209.45,404.79 L209.91,406.13 L210.35,407.48 L210.76,408.82 L211.13,410.16 L211.49,411.50" stroke="#000" stroke-width="3.6"/>
<path d="M206.37,396.74 L206.96,398.08 L207.49,399.43 L207.98,400.77 L208.47,402.11 L208.97,403.45 L209.45,404.79 L209.91,406.13 L210.35,407.48 L210.76,408.82 L211.13,410.16 L211.49,411.50" stroke="#fff" stroke-width="1.7"/>
<path d="M198.34,377.96 L198.50,379.30 L198.83,380.64 L199.37,381.98 L200.09,383.32 L200.94,384.67 L201.87,386.01 L202.83,387.35 L203.79,388.69 L204.73,390.03 L205.74,391.38 L206.77,392.72 L207.80,394.06 L208.79,395.40 L209.73,396.74 L210.60,398.08 L211.38,399.43 L212.10,400.77 L212.79,402.11 L213.45,403.45 L214.07,404.79 L214.66,406.13 L215.21,407.48 L215.73,408.82 L216.23,410.16 L216.71,411.50" stroke="#000" stroke-width="3.6"/>
<path d="M198.34,377.96 L198.50,379.30 L198.83,380.64 L199.37,381.98 L200.09,383.32 L200.94,384.67 L201.87,386.01 L202.83,387.35 L203.79,388.69 L204.73,390.03 L205.74,391.38 L206.77,392.72 L207.80,394.06 L208.79,395.40 L209.73,396.74 L210.60,398.08 L211.38,399.43 L212.10,400.77 L212.79,402.11 L213.45,403.45 L214.07,404.79 L214.66,406.13 L215.21,407.48 L215.73,408.82 L216.23,410.16 L216.71,411.50" stroke="#fff" stroke-width="1.7"/>
<path d="M199.08,360.52 L198.74,361.86 L198.50,363.20 L198.36,364.54 L198.35,365.88 L198.46,367.23 L198.70,368.57 L199.09,369.91 L199.58,371.25 L200.18,372.59 L200.86,373.93 L201.61,375.27 L202.44,376.62 L203.32,377.96 L204.25,379.30 L205.28,380.64 L206.42,381.98 L207.63,383.32 L208.86,384.67 L210.07,386.01 L211.24,387.35 L212.35,388.69 L213.39,390.03 L214.40,391.38 L215.34,392.72 L216.20,394.06 L216.99,395.40 L217.70,396.74 L218.34,398.08 L218.92,399.43 L219.45,400.77 L219.93,402.11 L220.36,403.45 L220.76,404.79 L221.13,406.13 L221.47,407.48 L221.80,408.82 L222.13,410.16 L222.45,411.50" stroke="#000" stroke-width="3.6"/>
<path d="M199.08,360.52 L198.74,361.86 L198.50,363.20 L198.36,364.54 L198.35,365.88 L198.46,367.23 L198.70,368.57 L199.09,369.91 L199.58,371.25 L200.18,372.59 L200.86,373.93 L201.61,375.27 L202.44,376.62 L203.32,377.96 L204.25,379.30 L205.28,380.64 L206.42,381.98 L207.63,383.32 L208.86,384.67 L210.07,386.01 L211.24,387.35 L212.35,388.69 L213.39,390.03 L214.40,391.38 L215.34,392.72 L216.20,394.06 L216.99,395.40 L217.70,396.74 L218.34,398.08 L218.92,399.43 L219.45,400.77 L219.93,402.11 L220.36,403.45 L220.76,404.79 L221.13,406.13 L221.47,407.48 L221.80,408.82 L222.13,410.16 L222.45,411.50" stroke="#fff" stroke-width="1.7"/>
<path d="M209.32,343.07 L208.60,344.42 L207.75,345.76 L206.88,347.10 L206.09,348.44 L205.46,349.78 L204.87,351.12 L204.28,352.47 L203.75,353.81 L203.36,355.15 L203.14,356.49 L203.16,357.83 L203.44,359.18 L203.90,360.52 L204.45,361.86 L205.10,363.20 L205.84,364.54 L206.67,365.88 L207.59,367.23 L208.60,368.57 L209.67,369.91 L210.79,371.25 L211.94,372.59 L213.12,373.93 L214.30,375.27 L215.49,376.62 L216.66,377.96 L217.82,379.30 L218.95,380.64 L220.02,381.98 L221.01,383.32 L221.90,384.67 L222.68,386.01 L223.38,387.35 L223.99,388.69 L224.52,390.03 L224.93,391.38 L225.23,392.72 L225.43,394.06 L225.55,395.40 L225.61,396.74 L225.64,398.08 L225.68,399.43 L225.71,400.77 L225.70,402.11 L225.66,403.45 L225.60,404.79 L225.53,406.13 L225.46,407.48 L225.41,408.82 L225.37,410.16 L225.35,411.50" stroke="#000" stroke-width="3.6"/>
<path d="M209.32,343.07 L208.60,344.42 L207.75,345.76 L206.88,347.10 L206.09,348.44 L205.46,349.78 L204.87,351.12 L204.28,352.47 L203.75,353.81 L203.36,355.15 L203.14,356.49 L203.16,357.83 L203.44,359.18 L203.90,360.52 L204.45,361.86 L205.10,363.20 L205.84,364.54 L206.67,365.88 L207.59,367.23 L208.60,368.57 L209.67,369.91 L210.79,371.25 L211.94,372.59 L213.12,373.93 L214.30,375.27 L215.49,376.62 L216.66,377.96 L217.82,379.30 L218.95,380.64 L220.02,381.98 L221.01,383.32 L221.90,384.67 L222.68,386.01 L223.38,387.35 L223.99,388.69 L224.52,390.03 L224.93,391.38 L225.23,392.72 L225.43,394.06 L225.55,395.40 L225.61,396.74 L225.64,398.08 L225.68,399.43 L225.71,400.77 L225.70,402.11 L225.66,403.45 L225.60,404.79 L225.53,406.13 L225.46,407.48 L225.41,408.82 L225.37,410.16 L225.35,411.50" stroke="#fff" stroke-width="1.7"/>
<path d="M209.37,331.00 L209.73,332.34 L210.04,333.68 L210.32,335.02 L210.58,336.37 L210.83,337.71 L211.08,339.05 L211.34,340.39 L211.52,341.73 L211.49,343.07 L211.34,344.42 L211.17,345.76 L211.07,347.10 L211.09,348.44 L211.28,349.78 L211.56,351.12 L211.92,352.47 L212.40,353.81 L213.01,355.15 L213.77,356.49 L214.66,357.83 L215.67,359.18 L216.75,360.52 L217.87,361.86 L219.02,363.20 L220.20,364.54 L221.40,365.88 L222.59,367.23 L223.76,368.57 L224.90,369.91 L225.99,371.25 L227.02,372.59 L228.01,373.93 L228.92,375.27 L229.77,376.62 L230.55,377.96 L231.26,379.30 L231.83,380.64 L232.20,381.98 L232.39,383.32 L232.42,384.67 L232.32,386.01 L232.13,387.35 L231.88,388.69 L231.59,390.03 L231.17,391.38 L230.65,392.72 L230.07,394.06 L229.45,395.40 L228.83,396.74" stroke="#000" stroke-width="3.6"/>
<path d="M209.37,331.00 L209.73,332.34 L210.04,333.68 L210.32,335.02 L210.58,336.37 L210.83,337.71 L211.08,339.05 L211.34,340.39 L211.52,341.73 L211.49,343.07 L211.34,344.42 L211.17,345.76 L211.07,347.10 L211.09,348.44 L211.28,349.78 L211.56,351.12 L211.92,352.47 L212.40,353.81 L213.01,355.15 L213.77,356.49 L214.66,357.83 L215.67,359.18 L216.75,360.52 L217.87,361.86 L219.02,363.20 L220.20,364.54 L221.40,365.88 L222.59,367.23 L223.76,368.57 L224.90,369.91 L225.99,371.25 L227.02,372.59 L228.01,373.93 L228.92,375.27 L229.77,376.62 L230.55,377.96 L231.26,379.30 L231.83,380.64 L232.20,381.98 L232.39,383.32 L232.42,384.67 L232.32,386.01 L232.13,387.35 L231.88,388.69 L231.59,390.03 L231.17,391.38 L230.65,392.72 L230.07,394.06 L229.45,395.40 L228.83,396.74" stroke="#fff" stroke-width="1.7"/>
<path d="M212.96,331.00 L213.52,332.34 L214.03,333.68 L214.51,335.02 L214.98,336.37 L215.43,337.71 L215.89,339.05 L216.34,340.39 L216.79,341.73 L217.24,343.07 L217.75,344.42 L218.36,345.76 L219.08,347.10 L219.90,348.44 L220.80,349.78 L221.79,351.12 L222.89,352.47 L224.09,353.81 L225.35,355.15 L226.64,356.49 L227.89,357.83 L229.03,359.18 L230.09,360.52 L231.12,361.86 L232.11,363.20 L233.04,364.54 L233.90,365.88 L234.66,367.23 L235.32,368.57 L235.85,369.91 L236.27,371.25 L236.58,372.59 L236.80,373.93 L236.91,375.27 L236.93,376.62 L236.86,377.96 L236.70,379.30" stroke="#000" stroke-width="3.6"/>
<path d="M212.96,331.00 L213.52,332.34 L214.03,333.68 L214.51,335.02 L214.98,336.37 L215.43,337.71 L215.89,339.05 L216.34,340.39 L216.79,341.73 L217.24,343.07 L217.75,344.42 L218.36,345.76 L219.08,347.10 L219.90,348.44 L220.80,349.78 L221.79,351.12 L222.89,352.47 L224.09,353.81 L225.35,355.15 L226.64,356.49 L227.89,357.83 L229.03,359.18 L230.09,360.52 L231.12,361.86 L232.11,363.20 L233.04,364.54 L233.90,365.88 L234.66,367.23 L235.32,368.57 L235.85,369.91 L236.27,371.25 L236.58,372.59 L236.80,373.93 L236.91,375.27 L236.93,376.62 L236.86,377.96 L236.70,379.30" stroke="#fff" stroke-width="1.7"/>
</g>
<path d="M207.60,331.00 L207.89,332.61 L208.09,334.22 L208.21,335.83 L208.27,337.44 L208.30,339.05 L208.30,340.66 L208.03,342.27 L207.31,343.88 L206.30,345.49 L205.18,347.10 L204.08,348.71 L203.12,350.32 L202.05,351.93 L200.90,353.54 L199.78,355.15 L198.80,356.76 L198.05,358.37 L197.59,359.98 L197.20,361.59 L196.85,363.20 L196.54,364.81 L196.31,366.42 L196.15,368.03 L196.10,369.64 L196.13,371.25 L196.21,372.86 L196.33,374.47 L196.50,376.08 L196.69,377.69 L196.90,379.30 L197.25,380.91 L197.82,382.52 L198.54,384.13 L199.33,385.74 L200.14,387.35 L200.90,388.96 L201.65,390.57 L202.47,392.18 L203.32,393.79 L204.14,395.40 L204.89,397.01 L205.53,398.62 L206.04,400.23 L206.51,401.84 L206.94,403.45 L207.32,405.06 L207.64,406.67 L207.90,408.28 L208.08,409.89 L208.20,411.50 L227.00,411.50 L227.12,409.89 L227.30,408.28 L227.56,406.67 L227.88,405.06 L228.26,403.45 L228.69,401.84 L229.16,400.23 L229.67,398.62 L230.31,397.01 L231.06,395.40 L231.88,393.79 L232.73,392.18 L233.55,390.57 L234.30,388.96 L235.06,387.35 L235.87,385.74 L236.66,384.13 L237.38,382.52 L237.95,380.91 L238.30,379.30 L238.51,377.69 L238.70,376.08 L238.87,374.47 L238.99,372.86 L239.07,371.25 L239.10,369.64 L239.05,368.03 L238.89,366.42 L238.66,364.81 L238.35,363.20 L238.00,361.59 L237.61,359.98 L237.15,358.37 L236.40,356.76 L235.42,355.15 L234.30,353.54 L233.15,351.93 L232.08,350.32 L231.12,348.71 L230.02,347.10 L228.90,345.49 L227.89,343.88 L227.17,342.27 L226.90,340.66 L226.90,339.05 L226.93,337.44 L226.99,335.83 L227.11,334.22 L227.31,332.61 L227.60,331.00 Z" fill="none" stroke="#000" stroke-width="1.4" stroke-linejoin="round"/>
<rect x="206.4" y="318.9" width="20.6" height="12.2" rx="3" fill="#fff" stroke="#000" stroke-width="1.3"/>
<path d="M206.8,324.5 Q217,328 226.8,324.5 M208,330.5 L211.5,320 M212.8,331 L216.3,319.5 M217.6,331 L221.1,319.5 M222.4,330.5 L225.6,320.5" fill="none" stroke="#000" stroke-width="1"/>
<path d="M205.8,411.5 H229.2 C229.2,413.5 227.6,415 227.6,417.3 C227.6,419.8 228.8,421 228.8,423 H206.2 C206.2,421 207.4,419.8 207.4,417.3 C207.4,415 205.8,413.5 205.8,411.5 Z" fill="#fff" stroke="#000" stroke-width="1.5" stroke-linejoin="round"/>
<path d="M210.5,418.6 H224.5" stroke="#000" stroke-width="1.1"/>
<path d="M211.3,425.5 Q217.2,428.3 223,425.5" fill="none" stroke="#000" stroke-width="1.3"/>
</svg>
</body></html>
